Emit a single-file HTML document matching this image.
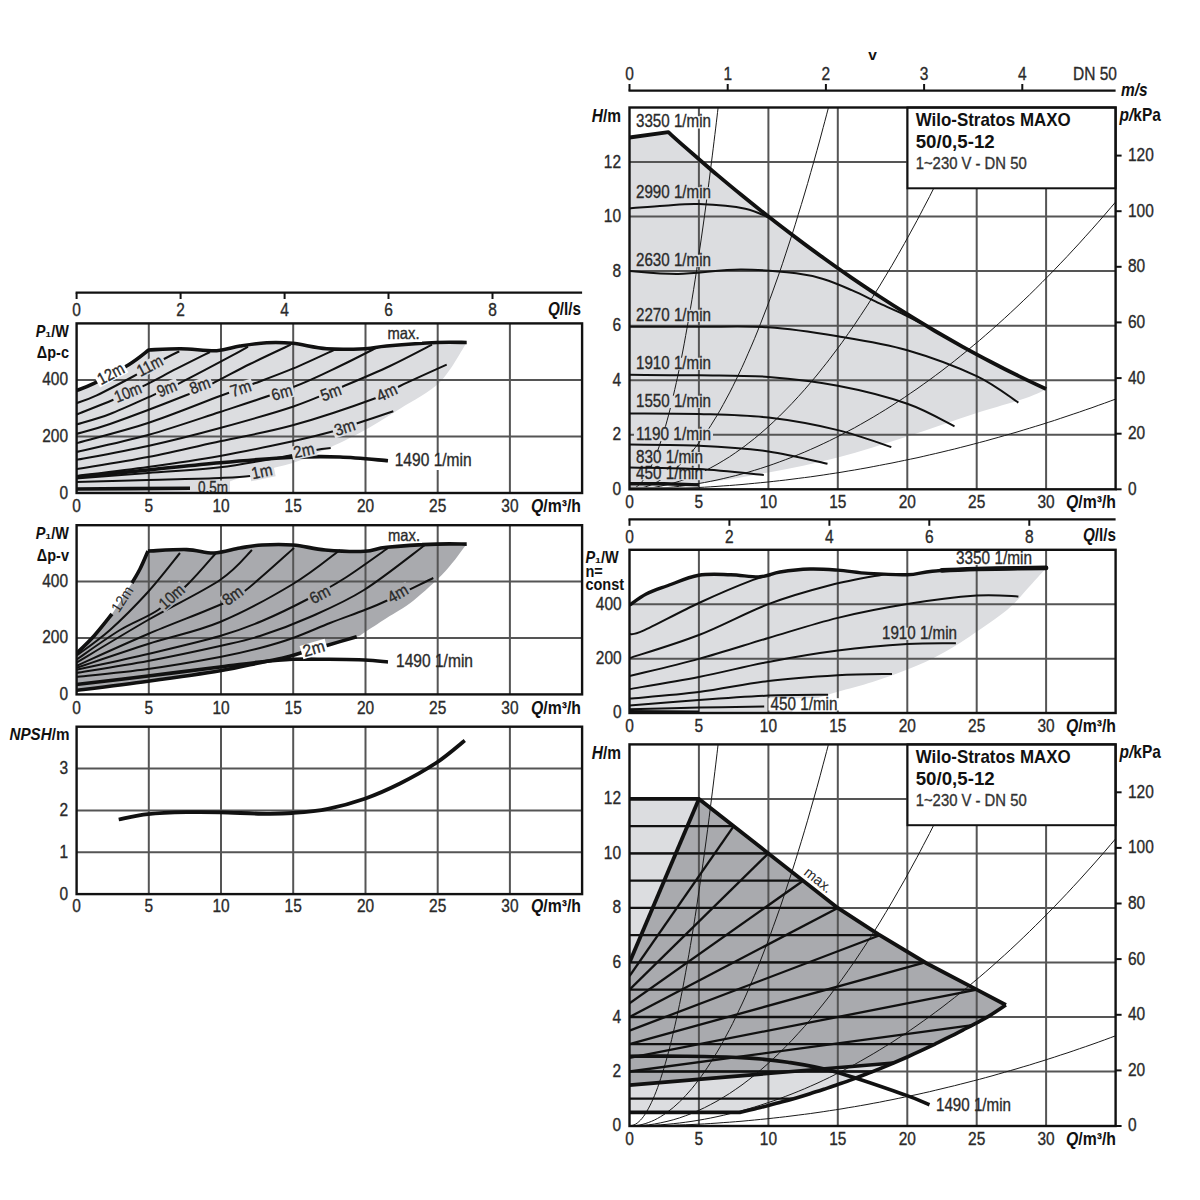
<!DOCTYPE html>
<html><head><meta charset="utf-8"><style>
html,body{margin:0;padding:0;background:#fff;width:1200px;height:1200px;overflow:hidden}
svg{display:block}
text{font-family:"Liberation Sans",sans-serif}
</style></head><body>
<svg width="1200" height="1200" viewBox="0 0 1200 1200">
<defs>
<clipPath id="cA"><rect x="629.5" y="107.5" width="486.1" height="381.8"/></clipPath>
<clipPath id="cB"><rect x="629.5" y="550.0" width="486.1" height="163.0"/></clipPath>
<clipPath id="cC"><rect x="629.5" y="744.4" width="486.1" height="381.6"/></clipPath>
<clipPath id="cD"><rect x="76.6" y="323.4" width="505.5" height="169.6"/></clipPath>
<clipPath id="cE"><rect x="76.6" y="525.2" width="505.5" height="169.2"/></clipPath>
<clipPath id="cF"><rect x="76.6" y="726.7" width="505.5" height="167.4"/></clipPath>
</defs>
<g clip-path="url(#cA)">
<path d="M629.5,137.5 L668.4,132.2 C671.2,134.7 677.6,140.6 685.1,147.1 C692.5,153.6 703.6,163.3 712.8,171.2 C722.1,179.0 731.3,186.8 740.6,194.3 C749.9,201.9 759.1,209.3 768.4,216.6 C777.6,223.8 786.9,231.0 796.2,237.9 C805.4,244.9 814.7,251.7 823.9,258.3 C833.2,265.0 842.4,271.5 851.7,277.9 C861.0,284.2 870.2,290.4 879.5,296.5 C888.7,302.5 898.0,308.4 907.3,314.2 C916.5,319.9 925.8,325.5 935.0,331.0 C944.3,336.4 953.6,341.7 962.8,346.9 C972.1,352.0 981.3,357.0 990.6,361.8 C999.8,366.7 1009.1,371.4 1018.4,375.9 C1027.6,380.4 1041.5,386.9 1046.1,389.0 C1034.6,397.0 999.8,405.9 976.7,412.9 C953.6,420.0 930.4,429.0 907.3,436.4 C884.1,443.8 861.0,451.4 837.8,457.4 C814.7,463.4 791.5,468.1 768.4,472.4 C745.2,476.7 722.1,480.7 698.9,483.3 C675.8,485.9 641.1,487.2 629.5,487.9 Z" fill="#dcdde0"/>
<line x1="698.9" y1="107.5" x2="698.9" y2="489.3" stroke="#555555" stroke-width="2.0"/>
<line x1="768.4" y1="107.5" x2="768.4" y2="489.3" stroke="#555555" stroke-width="2.0"/>
<line x1="837.8" y1="107.5" x2="837.8" y2="489.3" stroke="#555555" stroke-width="2.0"/>
<line x1="907.3" y1="107.5" x2="907.3" y2="489.3" stroke="#555555" stroke-width="2.0"/>
<line x1="976.7" y1="107.5" x2="976.7" y2="489.3" stroke="#555555" stroke-width="2.0"/>
<line x1="1046.1" y1="107.5" x2="1046.1" y2="489.3" stroke="#555555" stroke-width="2.0"/>
<line x1="629.5" y1="434.8" x2="1115.6" y2="434.8" stroke="#555555" stroke-width="2.0"/>
<line x1="629.5" y1="380.2" x2="1115.6" y2="380.2" stroke="#555555" stroke-width="2.0"/>
<line x1="629.5" y1="325.7" x2="1115.6" y2="325.7" stroke="#555555" stroke-width="2.0"/>
<line x1="629.5" y1="271.1" x2="1115.6" y2="271.1" stroke="#555555" stroke-width="2.0"/>
<line x1="629.5" y1="216.6" x2="1115.6" y2="216.6" stroke="#555555" stroke-width="2.0"/>
<line x1="629.5" y1="162.1" x2="1115.6" y2="162.1" stroke="#555555" stroke-width="2.0"/>
<path d="M629.5,489.3 C630.5,489.0 633.7,488.7 635.7,487.4 C637.8,486.1 639.9,484.2 642.0,481.7 C644.1,479.2 646.2,476.0 648.2,472.2 C650.3,468.4 652.4,464.0 654.5,458.9 C656.6,453.8 658.7,448.1 660.7,441.8 C662.8,435.5 664.9,428.5 667.0,420.9 C669.1,413.3 671.2,405.1 673.2,396.2 C675.3,387.4 677.4,377.9 679.5,367.7 C681.6,357.6 683.7,346.8 685.7,335.4 C687.8,324.0 689.9,312.0 692.0,299.3 C694.1,286.7 696.2,273.4 698.2,259.4 C700.3,245.5 702.4,231.0 704.5,215.8 C706.6,200.6 708.7,184.7 710.7,168.3 C712.8,151.8 715.5,129.8 717.0,117.0 C718.5,104.1 719.5,95.5 720.0,91.2" fill="none" stroke="#1a1a1a" stroke-width="1.0" stroke-linejoin="round" />
<path d="M629.5,489.3 C630.5,489.2 633.7,489.2 635.7,488.9 C637.8,488.7 639.9,488.3 642.0,487.8 C644.1,487.3 646.2,486.7 648.2,485.9 C650.3,485.2 652.4,484.3 654.5,483.3 C656.6,482.3 658.7,481.1 660.7,479.9 C662.8,478.6 664.9,477.2 667.0,475.7 C669.1,474.2 671.2,472.6 673.2,470.8 C675.3,469.1 677.4,467.2 679.5,465.2 C681.6,463.2 683.7,461.1 685.7,458.8 C687.8,456.5 689.9,454.1 692.0,451.6 C694.1,449.1 696.2,446.5 698.2,443.7 C700.3,441.0 702.4,438.1 704.5,435.1 C706.6,432.1 708.7,428.9 710.7,425.7 C712.8,422.4 714.9,419.0 717.0,415.5 C719.1,412.0 721.2,408.3 723.2,404.6 C725.3,400.8 727.4,396.9 729.5,392.9 C731.6,388.9 733.7,384.7 735.7,380.5 C737.8,376.2 739.9,371.8 742.0,367.3 C744.1,362.8 746.2,358.1 748.2,353.3 C750.3,348.6 752.4,343.7 754.5,338.7 C756.6,333.6 758.7,328.5 760.7,323.2 C762.8,317.9 764.9,312.5 767.0,307.0 C769.1,301.5 771.2,295.8 773.2,290.1 C775.3,284.3 777.4,278.4 779.5,272.4 C781.6,266.3 783.7,260.2 785.7,253.9 C787.8,247.6 789.9,241.2 792.0,234.7 C794.1,228.2 796.2,221.5 798.2,214.7 C800.3,208.0 802.4,201.1 804.5,194.0 C806.6,187.0 808.7,179.9 810.7,172.6 C812.8,165.3 814.9,157.9 817.0,150.3 C819.1,142.8 821.2,135.2 823.2,127.4 C825.3,119.6 827.9,109.7 829.5,103.6 C831.1,97.6 832.2,93.2 832.7,91.2" fill="none" stroke="#1a1a1a" stroke-width="1.0" stroke-linejoin="round" />
<path d="M629.5,489.3 C630.5,489.3 633.7,489.3 635.7,489.2 C637.8,489.1 639.9,489.0 642.0,488.8 C644.1,488.6 646.2,488.4 648.2,488.2 C650.3,487.9 652.4,487.6 654.5,487.3 C656.6,486.9 658.7,486.5 660.7,486.1 C662.8,485.7 664.9,485.2 667.0,484.7 C669.1,484.2 671.2,483.7 673.2,483.1 C675.3,482.5 677.4,481.8 679.5,481.2 C681.6,480.5 683.7,479.8 685.7,479.0 C687.8,478.3 689.9,477.4 692.0,476.6 C694.1,475.8 696.2,474.9 698.2,473.9 C700.3,473.0 702.4,472.0 704.5,471.0 C706.6,470.0 708.7,468.9 710.7,467.8 C712.8,466.7 714.9,465.6 717.0,464.4 C719.1,463.2 721.2,462.0 723.2,460.7 C725.3,459.5 727.4,458.1 729.5,456.8 C731.6,455.4 733.7,454.0 735.7,452.6 C737.8,451.2 739.9,449.7 742.0,448.1 C744.1,446.6 746.2,445.1 748.2,443.4 C750.3,441.8 752.4,440.2 754.5,438.5 C756.6,436.8 758.7,435.1 760.7,433.3 C762.8,431.5 764.9,429.7 767.0,427.8 C769.1,426.0 771.2,424.1 773.2,422.1 C775.3,420.2 777.4,418.2 779.5,416.1 C781.6,414.1 783.7,412.0 785.7,409.9 C787.8,407.8 789.9,405.6 792.0,403.4 C794.1,401.2 796.2,399.0 798.2,396.7 C800.3,394.4 802.4,392.1 804.5,389.7 C806.6,387.4 808.7,384.9 810.7,382.5 C812.8,380.0 814.9,377.5 817.0,375.0 C819.1,372.5 821.2,369.9 823.2,367.2 C825.3,364.6 827.4,362.0 829.5,359.2 C831.6,356.5 833.7,353.8 835.7,351.0 C837.8,348.2 839.9,345.4 842.0,342.5 C844.1,339.6 846.2,336.7 848.2,333.7 C850.3,330.7 852.4,327.7 854.5,324.7 C856.6,321.6 858.7,318.6 860.7,315.4 C862.8,312.3 864.9,309.1 867.0,305.9 C869.1,302.7 871.2,299.4 873.2,296.1 C875.3,292.8 877.4,289.5 879.5,286.1 C881.6,282.7 883.7,279.3 885.7,275.8 C887.8,272.3 889.9,268.8 892.0,265.3 C894.1,261.7 896.1,258.1 898.2,254.5 C900.3,250.8 902.4,247.1 904.5,243.4 C906.6,239.7 908.6,235.9 910.7,232.1 C912.8,228.3 914.9,224.4 917.0,220.5 C919.1,216.7 921.1,212.7 923.2,208.7 C925.3,204.8 927.4,200.7 929.5,196.7 C931.6,192.6 933.6,188.5 935.7,184.3 C937.8,180.2 939.9,176.0 942.0,171.8 C944.1,167.5 946.1,163.3 948.2,158.9 C950.3,154.6 952.4,150.3 954.5,145.9 C956.6,141.5 958.6,137.0 960.7,132.5 C962.8,128.0 964.9,123.5 967.0,118.9 C969.1,114.4 971.2,109.7 973.2,105.1 C975.3,100.5 978.4,93.5 979.4,91.2" fill="none" stroke="#1a1a1a" stroke-width="1.0" stroke-linejoin="round" />
<path d="M629.5,489.3 C630.5,489.3 633.7,489.3 635.7,489.3 C637.8,489.2 639.9,489.2 642.0,489.1 C644.1,489.0 646.2,489.0 648.2,488.9 C650.3,488.8 652.4,488.7 654.5,488.5 C656.6,488.4 658.7,488.3 660.7,488.1 C662.8,488.0 664.9,487.8 667.0,487.6 C669.1,487.4 671.2,487.2 673.2,487.0 C675.3,486.8 677.4,486.5 679.5,486.3 C681.6,486.0 683.7,485.7 685.7,485.5 C687.8,485.2 689.9,484.9 692.0,484.6 C694.1,484.2 696.2,483.9 698.2,483.6 C700.3,483.2 702.4,482.8 704.5,482.5 C706.6,482.1 708.7,481.7 710.7,481.3 C712.8,480.9 714.9,480.4 717.0,480.0 C719.1,479.5 721.2,479.1 723.2,478.6 C725.3,478.1 727.4,477.6 729.5,477.1 C731.6,476.6 733.7,476.1 735.7,475.6 C737.8,475.0 739.9,474.5 742.0,473.9 C744.1,473.3 746.2,472.8 748.2,472.2 C750.3,471.6 752.4,470.9 754.5,470.3 C756.6,469.7 758.7,469.0 760.7,468.4 C762.8,467.7 764.9,467.0 767.0,466.3 C769.1,465.6 771.2,464.9 773.2,464.2 C775.3,463.4 777.4,462.7 779.5,461.9 C781.6,461.2 783.7,460.4 785.7,459.6 C787.8,458.8 789.9,458.0 792.0,457.2 C794.1,456.4 796.2,455.5 798.2,454.7 C800.3,453.8 802.4,453.0 804.5,452.1 C806.6,451.2 808.7,450.3 810.7,449.4 C812.8,448.4 814.9,447.5 817.0,446.6 C819.1,445.6 821.2,444.6 823.2,443.7 C825.3,442.7 827.4,441.7 829.5,440.7 C831.6,439.7 833.7,438.6 835.7,437.6 C837.8,436.5 839.9,435.5 842.0,434.4 C844.1,433.3 846.2,432.2 848.2,431.1 C850.3,430.0 852.4,428.9 854.5,427.8 C856.6,426.6 858.7,425.5 860.7,424.3 C862.8,423.1 864.9,421.9 867.0,420.7 C869.1,419.5 871.2,418.3 873.2,417.1 C875.3,415.8 877.4,414.6 879.5,413.3 C881.6,412.0 883.7,410.8 885.7,409.5 C887.8,408.2 889.9,406.9 892.0,405.5 C894.1,404.2 896.1,402.9 898.2,401.5 C900.3,400.1 902.4,398.8 904.5,397.4 C906.6,396.0 908.6,394.6 910.7,393.1 C912.8,391.7 914.9,390.3 917.0,388.8 C919.1,387.4 921.1,385.9 923.2,384.4 C925.3,382.9 927.4,381.4 929.5,379.9 C931.6,378.4 933.6,376.8 935.7,375.3 C937.8,373.7 939.9,372.2 942.0,370.6 C944.1,369.0 946.1,367.4 948.2,365.8 C950.3,364.2 952.4,362.5 954.5,360.9 C956.6,359.2 958.6,357.6 960.7,355.9 C962.8,354.2 964.9,352.5 967.0,350.8 C969.1,349.1 971.1,347.4 973.2,345.6 C975.3,343.9 977.4,342.1 979.5,340.4 C981.6,338.6 983.6,336.8 985.7,335.0 C987.8,333.2 989.9,331.4 992.0,329.5 C994.1,327.7 996.1,325.9 998.2,324.0 C1000.3,322.1 1002.4,320.2 1004.5,318.3 C1006.6,316.4 1008.6,314.5 1010.7,312.6 C1012.8,310.7 1014.9,308.7 1017.0,306.7 C1019.1,304.8 1021.1,302.8 1023.2,300.8 C1025.3,298.8 1027.4,296.8 1029.5,294.8 C1031.6,292.8 1033.6,290.7 1035.7,288.7 C1037.8,286.6 1039.9,284.5 1042.0,282.4 C1044.1,280.3 1046.1,278.2 1048.2,276.1 C1050.3,274.0 1052.4,271.9 1054.5,269.7 C1056.6,267.6 1058.6,265.4 1060.7,263.2 C1062.8,261.0 1064.9,258.8 1067.0,256.6 C1069.1,254.4 1071.1,252.1 1073.2,249.9 C1075.3,247.7 1077.4,245.4 1079.5,243.1 C1081.6,240.8 1083.6,238.5 1085.7,236.2 C1087.8,233.9 1089.9,231.6 1092.0,229.2 C1094.1,226.9 1096.1,224.5 1098.2,222.2 C1100.3,219.8 1102.4,217.4 1104.5,215.0 C1106.6,212.6 1108.6,210.2 1110.7,207.7 C1112.8,205.3 1114.9,202.8 1117.0,200.4 C1119.1,197.9 1121.1,195.4 1123.2,192.9 C1125.3,190.4 1128.4,186.6 1129.5,185.4" fill="none" stroke="#1a1a1a" stroke-width="1.0" stroke-linejoin="round" />
<path d="M629.5,489.3 C630.5,489.3 633.7,489.3 635.7,489.3 C637.8,489.3 639.9,489.3 642.0,489.2 C644.1,489.2 646.2,489.2 648.2,489.2 C650.3,489.1 652.4,489.1 654.5,489.1 C656.6,489.0 658.7,489.0 660.7,488.9 C662.8,488.9 664.9,488.8 667.0,488.8 C669.1,488.7 671.2,488.6 673.2,488.6 C675.3,488.5 677.4,488.4 679.5,488.3 C681.6,488.3 683.7,488.2 685.7,488.1 C687.8,488.0 689.9,487.9 692.0,487.8 C694.1,487.7 696.2,487.6 698.2,487.5 C700.3,487.4 702.4,487.3 704.5,487.2 C706.6,487.0 708.7,486.9 710.7,486.8 C712.8,486.7 714.9,486.5 717.0,486.4 C719.1,486.2 721.2,486.1 723.2,485.9 C725.3,485.8 727.4,485.6 729.5,485.5 C731.6,485.3 733.7,485.2 735.7,485.0 C737.8,484.8 739.9,484.6 742.0,484.5 C744.1,484.3 746.2,484.1 748.2,483.9 C750.3,483.7 752.4,483.5 754.5,483.3 C756.6,483.1 758.7,482.9 760.7,482.7 C762.8,482.5 764.9,482.3 767.0,482.1 C769.1,481.9 771.2,481.6 773.2,481.4 C775.3,481.2 777.4,481.0 779.5,480.7 C781.6,480.5 783.7,480.2 785.7,480.0 C787.8,479.7 789.9,479.5 792.0,479.2 C794.1,479.0 796.2,478.7 798.2,478.4 C800.3,478.2 802.4,477.9 804.5,477.6 C806.6,477.3 808.7,477.0 810.7,476.8 C812.8,476.5 814.9,476.2 817.0,475.9 C819.1,475.6 821.2,475.3 823.2,475.0 C825.3,474.7 827.4,474.4 829.5,474.0 C831.6,473.7 833.7,473.4 835.7,473.1 C837.8,472.7 839.9,472.4 842.0,472.1 C844.1,471.7 846.2,471.4 848.2,471.0 C850.3,470.7 852.4,470.3 854.5,470.0 C856.6,469.6 858.7,469.3 860.7,468.9 C862.8,468.5 864.9,468.1 867.0,467.8 C869.1,467.4 871.2,467.0 873.2,466.6 C875.3,466.2 877.4,465.8 879.5,465.4 C881.6,465.0 883.7,464.6 885.7,464.2 C887.8,463.8 889.9,463.4 892.0,463.0 C894.1,462.6 896.1,462.2 898.2,461.7 C900.3,461.3 902.4,460.9 904.5,460.4 C906.6,460.0 908.6,459.6 910.7,459.1 C912.8,458.7 914.9,458.2 917.0,457.8 C919.1,457.3 921.1,456.8 923.2,456.4 C925.3,455.9 927.4,455.4 929.5,454.9 C931.6,454.5 933.6,454.0 935.7,453.5 C937.8,453.0 939.9,452.5 942.0,452.0 C944.1,451.5 946.1,451.0 948.2,450.5 C950.3,450.0 952.4,449.5 954.5,449.0 C956.6,448.5 958.6,447.9 960.7,447.4 C962.8,446.9 964.9,446.4 967.0,445.8 C969.1,445.3 971.1,444.7 973.2,444.2 C975.3,443.7 977.4,443.1 979.5,442.5 C981.6,442.0 983.6,441.4 985.7,440.9 C987.8,440.3 989.9,439.7 992.0,439.1 C994.1,438.6 996.1,438.0 998.2,437.4 C1000.3,436.8 1002.4,436.2 1004.5,435.6 C1006.6,435.0 1008.6,434.4 1010.7,433.8 C1012.8,433.2 1014.9,432.6 1017.0,432.0 C1019.1,431.4 1021.1,430.7 1023.2,430.1 C1025.3,429.5 1027.4,428.9 1029.5,428.2 C1031.6,427.6 1033.6,427.0 1035.7,426.3 C1037.8,425.7 1039.9,425.0 1042.0,424.4 C1044.1,423.7 1046.1,423.0 1048.2,422.4 C1050.3,421.7 1052.4,421.0 1054.5,420.4 C1056.6,419.7 1058.6,419.0 1060.7,418.3 C1062.8,417.6 1064.9,416.9 1067.0,416.2 C1069.1,415.5 1071.1,414.8 1073.2,414.1 C1075.3,413.4 1077.4,412.7 1079.5,412.0 C1081.6,411.3 1083.6,410.6 1085.7,409.8 C1087.8,409.1 1089.9,408.4 1092.0,407.7 C1094.1,406.9 1096.1,406.2 1098.2,405.4 C1100.3,404.7 1102.4,403.9 1104.5,403.2 C1106.6,402.4 1108.6,401.7 1110.7,400.9 C1112.8,400.1 1114.9,399.4 1117.0,398.6 C1119.1,397.8 1121.1,397.0 1123.2,396.2 C1125.3,395.5 1128.4,394.3 1129.5,393.9" fill="none" stroke="#1a1a1a" stroke-width="1.0" stroke-linejoin="round" />
<rect x="634.0" y="116.2" width="79.0" height="12.3" fill="#fff"/>
<text transform="matrix(1 0 0 1.15 0 -19.12)" x="636.0" y="127.5" font-size="15.5" text-anchor="start" font-weight="normal" font-style="normal" fill="#2a2a2a" stroke="#2a2a2a" stroke-width="0.3" textLength="75.0" lengthAdjust="spacingAndGlyphs">3350 1/min</text>
<rect x="634.0" y="187.2" width="79.0" height="12.3" fill="#dcdde0"/>
<text transform="matrix(1 0 0 1.15 0 -29.77)" x="636.0" y="198.5" font-size="15.5" text-anchor="start" font-weight="normal" font-style="normal" fill="#2a2a2a" stroke="#2a2a2a" stroke-width="0.3" textLength="75.0" lengthAdjust="spacingAndGlyphs">2990 1/min</text>
<rect x="634.0" y="254.7" width="79.0" height="12.3" fill="#dcdde0"/>
<text transform="matrix(1 0 0 1.15 0 -39.90)" x="636.0" y="266.0" font-size="15.5" text-anchor="start" font-weight="normal" font-style="normal" fill="#2a2a2a" stroke="#2a2a2a" stroke-width="0.3" textLength="75.0" lengthAdjust="spacingAndGlyphs">2630 1/min</text>
<rect x="634.0" y="309.7" width="79.0" height="12.3" fill="#dcdde0"/>
<text transform="matrix(1 0 0 1.15 0 -48.15)" x="636.0" y="321.0" font-size="15.5" text-anchor="start" font-weight="normal" font-style="normal" fill="#2a2a2a" stroke="#2a2a2a" stroke-width="0.3" textLength="75.0" lengthAdjust="spacingAndGlyphs">2270 1/min</text>
<rect x="634.0" y="357.7" width="79.0" height="12.3" fill="#dcdde0"/>
<text transform="matrix(1 0 0 1.15 0 -55.35)" x="636.0" y="369.0" font-size="15.5" text-anchor="start" font-weight="normal" font-style="normal" fill="#2a2a2a" stroke="#2a2a2a" stroke-width="0.3" textLength="75.0" lengthAdjust="spacingAndGlyphs">1910 1/min</text>
<rect x="634.0" y="395.7" width="79.0" height="12.3" fill="#dcdde0"/>
<text transform="matrix(1 0 0 1.15 0 -61.05)" x="636.0" y="407.0" font-size="15.5" text-anchor="start" font-weight="normal" font-style="normal" fill="#2a2a2a" stroke="#2a2a2a" stroke-width="0.3" textLength="75.0" lengthAdjust="spacingAndGlyphs">1550 1/min</text>
<rect x="634.0" y="428.7" width="79.0" height="12.3" fill="#dcdde0"/>
<text transform="matrix(1 0 0 1.15 0 -66.00)" x="636.0" y="440.0" font-size="15.5" text-anchor="start" font-weight="normal" font-style="normal" fill="#2a2a2a" stroke="#2a2a2a" stroke-width="0.3" textLength="75.0" lengthAdjust="spacingAndGlyphs">1190 1/min</text>
<rect x="634.0" y="452.0" width="71.0" height="12.3" fill="#dcdde0"/>
<text transform="matrix(1 0 0 1.15 0 -69.49)" x="636.0" y="463.3" font-size="15.5" text-anchor="start" font-weight="normal" font-style="normal" fill="#2a2a2a" stroke="#2a2a2a" stroke-width="0.3" textLength="67.0" lengthAdjust="spacingAndGlyphs">830 1/min</text>
<rect x="634.0" y="467.9" width="71.0" height="12.3" fill="#dcdde0"/>
<text transform="matrix(1 0 0 1.15 0 -71.88)" x="636.0" y="479.2" font-size="15.5" text-anchor="start" font-weight="normal" font-style="normal" fill="#2a2a2a" stroke="#2a2a2a" stroke-width="0.3" textLength="67.0" lengthAdjust="spacingAndGlyphs">450 1/min</text>
<path d="M629.5,208.4 C635.3,208.0 652.6,206.4 664.2,205.7 C675.8,205.0 685.4,203.6 698.9,204.1 C712.5,204.6 733.1,206.1 745.3,208.7 C757.6,211.2 768.0,217.6 772.5,219.3" fill="none" stroke="#111" stroke-width="2.0" stroke-linejoin="round" />
<path d="M629.5,270.9 C637.6,271.4 659.6,274.1 678.1,273.9 C696.6,273.6 720.9,269.6 740.6,269.5 C760.3,269.4 782.3,271.7 796.2,273.3 C810.0,275.0 814.7,276.5 823.9,279.3 C833.2,282.1 842.4,286.2 851.7,290.2 C861.0,294.2 870.7,299.2 879.5,303.3 C888.3,307.4 897.5,311.4 904.5,314.8 C911.4,318.1 918.4,322.0 921.1,323.5" fill="none" stroke="#111" stroke-width="2.0" stroke-linejoin="round" />
<path d="M629.5,326.8 C641.1,326.8 675.8,326.7 698.9,326.8 C722.1,326.9 745.2,325.7 768.4,327.3 C791.5,328.9 814.7,332.5 837.8,336.3 C861.0,340.1 884.1,343.6 907.3,350.2 C930.4,356.9 958.2,367.4 976.7,376.1 C995.2,384.9 1011.4,398.2 1018.4,402.6" fill="none" stroke="#111" stroke-width="2.0" stroke-linejoin="round" />
<path d="M629.5,374.8 C641.1,374.9 675.8,374.9 698.9,375.3 C722.1,375.7 745.2,375.2 768.4,376.9 C791.5,378.7 814.7,381.2 837.8,385.7 C861.0,390.1 887.8,396.9 907.3,403.7 C926.7,410.4 946.6,422.5 954.5,426.3" fill="none" stroke="#111" stroke-width="2.0" stroke-linejoin="round" />
<path d="M629.5,413.5 C641.1,413.6 675.8,413.4 698.9,414.0 C722.1,414.7 745.2,414.9 768.4,417.6 C791.5,420.3 817.3,425.2 837.8,430.1 C858.3,435.0 882.4,444.2 891.3,447.0" fill="none" stroke="#111" stroke-width="2.0" stroke-linejoin="round" />
<path d="M629.5,444.6 C641.1,444.8 675.8,444.5 698.9,445.7 C722.1,446.8 746.9,448.4 768.4,451.4 C789.8,454.4 817.7,461.6 827.5,463.7" fill="none" stroke="#111" stroke-width="2.0" stroke-linejoin="round" />
<path d="M629.5,467.5 C641.1,467.8 676.6,467.8 698.9,469.1 C721.3,470.4 753.0,474.1 763.8,475.1" fill="none" stroke="#111" stroke-width="2.0" stroke-linejoin="round" />
<path d="M629.5,483.8 L664.2,483.8 L698.9,484.9" fill="none" stroke="#111" stroke-width="3.4" stroke-linejoin="round" />
<path d="M629.5,487.4 L698.9,488.2" fill="none" stroke="#666" stroke-width="1.2" stroke-linejoin="round" />
<path d="M629.5,137.5 L668.4,132.2 C671.2,134.7 677.6,140.6 685.1,147.1 C692.5,153.6 703.6,163.3 712.8,171.2 C722.1,179.0 731.3,186.8 740.6,194.3 C749.9,201.9 759.1,209.3 768.4,216.6 C777.6,223.8 786.9,231.0 796.2,237.9 C805.4,244.9 814.7,251.7 823.9,258.3 C833.2,265.0 842.4,271.5 851.7,277.9 C861.0,284.2 870.2,290.4 879.5,296.5 C888.7,302.5 898.0,308.4 907.3,314.2 C916.5,319.9 925.8,325.5 935.0,331.0 C944.3,336.4 953.6,341.7 962.8,346.9 C972.1,352.0 981.3,357.0 990.6,361.8 C999.8,366.7 1009.1,371.4 1018.4,375.9 C1027.6,380.4 1041.5,386.9 1046.1,389.0" fill="none" stroke="#111" stroke-width="3.8" stroke-linejoin="round"/>
</g>
<rect x="907.5" y="107.5" width="208.1" height="80.8" fill="#fff" stroke="#111" stroke-width="2"/>
<text transform="matrix(1 0 0 1.15 0 -18.97)" x="915.7" y="126.5" font-size="15.5" text-anchor="start" font-weight="bold" font-style="normal" fill="#111" textLength="155" lengthAdjust="spacingAndGlyphs">Wilo-Stratos MAXO</text>
<text transform="matrix(1 0 0 1.15 0 -22.26)" x="915.7" y="148.4" font-size="15.5" text-anchor="start" font-weight="bold" font-style="normal" fill="#111" textLength="79" lengthAdjust="spacingAndGlyphs">50/0,5-12</text>
<text transform="matrix(1 0 0 1.15 0 -25.39)" x="915.7" y="169.3" font-size="14" text-anchor="start" font-weight="normal" font-style="normal" fill="#333" stroke="#333" stroke-width="0.3" textLength="111" lengthAdjust="spacingAndGlyphs">1~230 V - DN 50</text>
<rect x="629.5" y="107.5" width="486.1" height="381.8" fill="none" stroke="#111" stroke-width="2.4"/>
<text transform="matrix(1 0 0 1.15 0 -74.22)" x="621.0" y="494.8" font-size="15.5" text-anchor="end" font-weight="normal" font-style="normal" fill="#2a2a2a" stroke="#2a2a2a" stroke-width="0.3" >0</text>
<text transform="matrix(1 0 0 1.15 0 -66.04)" x="621.0" y="440.3" font-size="15.5" text-anchor="end" font-weight="normal" font-style="normal" fill="#2a2a2a" stroke="#2a2a2a" stroke-width="0.3" >2</text>
<text transform="matrix(1 0 0 1.15 0 -57.86)" x="621.0" y="385.7" font-size="15.5" text-anchor="end" font-weight="normal" font-style="normal" fill="#2a2a2a" stroke="#2a2a2a" stroke-width="0.3" >4</text>
<text transform="matrix(1 0 0 1.15 0 -49.68)" x="621.0" y="331.2" font-size="15.5" text-anchor="end" font-weight="normal" font-style="normal" fill="#2a2a2a" stroke="#2a2a2a" stroke-width="0.3" >6</text>
<text transform="matrix(1 0 0 1.15 0 -41.50)" x="621.0" y="276.6" font-size="15.5" text-anchor="end" font-weight="normal" font-style="normal" fill="#2a2a2a" stroke="#2a2a2a" stroke-width="0.3" >8</text>
<text transform="matrix(1 0 0 1.15 0 -33.31)" x="621.0" y="222.1" font-size="15.5" text-anchor="end" font-weight="normal" font-style="normal" fill="#2a2a2a" stroke="#2a2a2a" stroke-width="0.3" >10</text>
<text transform="matrix(1 0 0 1.15 0 -25.13)" x="621.0" y="167.6" font-size="15.5" text-anchor="end" font-weight="normal" font-style="normal" fill="#2a2a2a" stroke="#2a2a2a" stroke-width="0.3" >12</text>
<text transform="matrix(1 0 0 1.15 0 -18.30)" x="621.0" y="122.0" font-size="15.5" text-anchor="end" font-weight="bold" font-style="normal" fill="#111" ><tspan font-style="italic">H</tspan>/m</text>
<text transform="matrix(1 0 0 1.15 0 -76.27)" x="629.5" y="508.5" font-size="15.5" text-anchor="middle" font-weight="normal" font-style="normal" fill="#2a2a2a" stroke="#2a2a2a" stroke-width="0.3" >0</text>
<text transform="matrix(1 0 0 1.15 0 -76.27)" x="698.9" y="508.5" font-size="15.5" text-anchor="middle" font-weight="normal" font-style="normal" fill="#2a2a2a" stroke="#2a2a2a" stroke-width="0.3" >5</text>
<text transform="matrix(1 0 0 1.15 0 -76.27)" x="768.4" y="508.5" font-size="15.5" text-anchor="middle" font-weight="normal" font-style="normal" fill="#2a2a2a" stroke="#2a2a2a" stroke-width="0.3" >10</text>
<text transform="matrix(1 0 0 1.15 0 -76.27)" x="837.8" y="508.5" font-size="15.5" text-anchor="middle" font-weight="normal" font-style="normal" fill="#2a2a2a" stroke="#2a2a2a" stroke-width="0.3" >15</text>
<text transform="matrix(1 0 0 1.15 0 -76.27)" x="907.3" y="508.5" font-size="15.5" text-anchor="middle" font-weight="normal" font-style="normal" fill="#2a2a2a" stroke="#2a2a2a" stroke-width="0.3" >20</text>
<text transform="matrix(1 0 0 1.15 0 -76.27)" x="976.7" y="508.5" font-size="15.5" text-anchor="middle" font-weight="normal" font-style="normal" fill="#2a2a2a" stroke="#2a2a2a" stroke-width="0.3" >25</text>
<text transform="matrix(1 0 0 1.15 0 -76.27)" x="1046.1" y="508.5" font-size="15.5" text-anchor="middle" font-weight="normal" font-style="normal" fill="#2a2a2a" stroke="#2a2a2a" stroke-width="0.3" >30</text>
<text transform="matrix(1 0 0 1.15 0 -76.27)" x="1116.0" y="508.5" font-size="15.5" text-anchor="end" font-weight="bold" font-style="normal" fill="#111" textLength="50" lengthAdjust="spacingAndGlyphs"><tspan font-style="italic">Q</tspan>/m³/h</text>
<line x1="1115.6" y1="489.3" x2="1121.6" y2="489.3" stroke="#111" stroke-width="2"/>
<text transform="matrix(1 0 0 1.15 0 -74.22)" x="1128.0" y="494.8" font-size="15.5" text-anchor="start" font-weight="normal" font-style="normal" fill="#2a2a2a" stroke="#2a2a2a" stroke-width="0.3" >0</text>
<line x1="1115.6" y1="433.7" x2="1121.6" y2="433.7" stroke="#111" stroke-width="2"/>
<text transform="matrix(1 0 0 1.15 0 -65.88)" x="1128.0" y="439.2" font-size="15.5" text-anchor="start" font-weight="normal" font-style="normal" fill="#2a2a2a" stroke="#2a2a2a" stroke-width="0.3" >20</text>
<line x1="1115.6" y1="378.1" x2="1121.6" y2="378.1" stroke="#111" stroke-width="2"/>
<text transform="matrix(1 0 0 1.15 0 -57.53)" x="1128.0" y="383.6" font-size="15.5" text-anchor="start" font-weight="normal" font-style="normal" fill="#2a2a2a" stroke="#2a2a2a" stroke-width="0.3" >40</text>
<line x1="1115.6" y1="322.4" x2="1121.6" y2="322.4" stroke="#111" stroke-width="2"/>
<text transform="matrix(1 0 0 1.15 0 -49.19)" x="1128.0" y="327.9" font-size="15.5" text-anchor="start" font-weight="normal" font-style="normal" fill="#2a2a2a" stroke="#2a2a2a" stroke-width="0.3" >60</text>
<line x1="1115.6" y1="266.8" x2="1121.6" y2="266.8" stroke="#111" stroke-width="2"/>
<text transform="matrix(1 0 0 1.15 0 -40.85)" x="1128.0" y="272.3" font-size="15.5" text-anchor="start" font-weight="normal" font-style="normal" fill="#2a2a2a" stroke="#2a2a2a" stroke-width="0.3" >80</text>
<line x1="1115.6" y1="211.2" x2="1121.6" y2="211.2" stroke="#111" stroke-width="2"/>
<text transform="matrix(1 0 0 1.15 0 -32.51)" x="1128.0" y="216.7" font-size="15.5" text-anchor="start" font-weight="normal" font-style="normal" fill="#2a2a2a" stroke="#2a2a2a" stroke-width="0.3" >100</text>
<line x1="1115.6" y1="155.6" x2="1121.6" y2="155.6" stroke="#111" stroke-width="2"/>
<text transform="matrix(1 0 0 1.15 0 -24.16)" x="1128.0" y="161.1" font-size="15.5" text-anchor="start" font-weight="normal" font-style="normal" fill="#2a2a2a" stroke="#2a2a2a" stroke-width="0.3" >120</text>
<text transform="matrix(1 0 0 1.15 0 -18.10)" x="1119.5" y="120.7" font-size="15.5" text-anchor="start" font-weight="bold" font-style="italic" fill="#111" >p/<tspan font-style="normal">kPa</tspan></text>
<line x1="628.5" y1="90.6" x2="1115.6" y2="90.6" stroke="#111" stroke-width="2.2"/>
<line x1="629.5" y1="84" x2="629.5" y2="90.6" stroke="#111" stroke-width="2"/>
<text transform="matrix(1 0 0 1.15 0 -12.00)" x="629.5" y="80.0" font-size="15.5" text-anchor="middle" font-weight="normal" font-style="normal" fill="#2a2a2a" stroke="#2a2a2a" stroke-width="0.3" >0</text>
<line x1="727.7" y1="84" x2="727.7" y2="90.6" stroke="#111" stroke-width="2"/>
<text transform="matrix(1 0 0 1.15 0 -12.00)" x="727.7" y="80.0" font-size="15.5" text-anchor="middle" font-weight="normal" font-style="normal" fill="#2a2a2a" stroke="#2a2a2a" stroke-width="0.3" >1</text>
<line x1="825.9" y1="84" x2="825.9" y2="90.6" stroke="#111" stroke-width="2"/>
<text transform="matrix(1 0 0 1.15 0 -12.00)" x="825.9" y="80.0" font-size="15.5" text-anchor="middle" font-weight="normal" font-style="normal" fill="#2a2a2a" stroke="#2a2a2a" stroke-width="0.3" >2</text>
<line x1="924.1" y1="84" x2="924.1" y2="90.6" stroke="#111" stroke-width="2"/>
<text transform="matrix(1 0 0 1.15 0 -12.00)" x="924.1" y="80.0" font-size="15.5" text-anchor="middle" font-weight="normal" font-style="normal" fill="#2a2a2a" stroke="#2a2a2a" stroke-width="0.3" >3</text>
<line x1="1022.3" y1="84" x2="1022.3" y2="90.6" stroke="#111" stroke-width="2"/>
<text transform="matrix(1 0 0 1.15 0 -12.00)" x="1022.3" y="80.0" font-size="15.5" text-anchor="middle" font-weight="normal" font-style="normal" fill="#2a2a2a" stroke="#2a2a2a" stroke-width="0.3" >4</text>
<text transform="matrix(1 0 0 1.0 0 0.00)" x="872.5" y="60.0" font-size="15.5" text-anchor="middle" font-weight="bold" font-style="normal" fill="#111" >v</text>
<text transform="matrix(1 0 0 1.15 0 -12.00)" x="1073.0" y="80.0" font-size="15.5" text-anchor="start" font-weight="normal" font-style="normal" fill="#2a2a2a" stroke="#2a2a2a" stroke-width="0.3" >DN 50</text>
<text transform="matrix(1 0 0 1.15 0 -14.40)" x="1121.0" y="96.0" font-size="15.5" text-anchor="start" font-weight="bold" font-style="normal" fill="#111" ><tspan font-style="italic">m/s</tspan></text>
<g clip-path="url(#cB)">
<path d="M629.5,605.1 C632.3,603.3 640.0,597.2 646.2,594.0 C652.4,590.8 658.0,589.1 666.7,586.0 C675.5,582.9 688.0,577.1 698.7,575.3 C709.3,573.4 720.5,574.5 730.7,574.7 C741.0,575.0 751.8,577.2 760.0,576.8 C768.3,576.3 771.7,573.3 780.0,572.0 C788.4,570.7 800.4,569.3 810.0,569.0 C819.7,568.7 828.1,569.4 837.8,570.1 C847.5,570.8 856.8,572.6 868.4,573.4 C879.9,574.1 896.6,575.1 907.3,574.7 C917.9,574.4 920.7,572.1 932.3,571.2 C943.8,570.2 957.7,569.6 976.7,569.0 C995.7,568.5 1034.6,568.1 1046.1,567.9 C1042.9,571.5 1033.2,582.4 1026.7,589.4 C1020.2,596.4 1016.7,601.9 1007.3,609.8 C997.8,617.6 981.6,628.6 969.8,636.4 C958.0,644.2 946.8,651.0 936.4,656.5 C926.0,662.0 917.9,665.3 907.3,669.5 C896.6,673.8 884.1,678.3 872.5,682.0 C861.0,685.7 847.5,688.9 837.8,691.8 C828.1,694.7 820.9,696.9 814.2,699.4 C807.5,702.0 801.5,704.8 797.5,707.0 C793.6,709.3 791.8,712.0 790.6,713.0 L629.5,713.0 Z" fill="#dcdde0"/>
<line x1="698.9" y1="549.8" x2="698.9" y2="713.0" stroke="#555555" stroke-width="2.0"/>
<line x1="768.4" y1="549.8" x2="768.4" y2="713.0" stroke="#555555" stroke-width="2.0"/>
<line x1="837.8" y1="549.8" x2="837.8" y2="713.0" stroke="#555555" stroke-width="2.0"/>
<line x1="907.3" y1="549.8" x2="907.3" y2="713.0" stroke="#555555" stroke-width="2.0"/>
<line x1="976.7" y1="549.8" x2="976.7" y2="713.0" stroke="#555555" stroke-width="2.0"/>
<line x1="1046.1" y1="549.8" x2="1046.1" y2="713.0" stroke="#555555" stroke-width="2.0"/>
<line x1="629.5" y1="658.7" x2="1115.6" y2="658.7" stroke="#555555" stroke-width="2.0"/>
<line x1="629.5" y1="604.3" x2="1115.6" y2="604.3" stroke="#555555" stroke-width="2.0"/>
<rect x="954.0" y="552.7" width="80.0" height="12.3" fill="#fff"/>
<text transform="matrix(1 0 0 1.15 0 -84.60)" x="956.0" y="564.0" font-size="15.5" text-anchor="start" font-weight="normal" font-style="normal" fill="#2a2a2a" stroke="#2a2a2a" stroke-width="0.3" textLength="76.0" lengthAdjust="spacingAndGlyphs">3350 1/min</text>
<rect x="880.0" y="627.7" width="79.0" height="12.3" fill="#dcdde0"/>
<text transform="matrix(1 0 0 1.15 0 -95.85)" x="882.0" y="639.0" font-size="15.5" text-anchor="start" font-weight="normal" font-style="normal" fill="#2a2a2a" stroke="#2a2a2a" stroke-width="0.3" textLength="75.0" lengthAdjust="spacingAndGlyphs">1910 1/min</text>
<rect x="768.5" y="698.2" width="71.0" height="12.3" fill="#fff"/>
<text transform="matrix(1 0 0 1.15 0 -106.42)" x="770.5" y="709.5" font-size="15.5" text-anchor="start" font-weight="normal" font-style="normal" fill="#2a2a2a" stroke="#2a2a2a" stroke-width="0.3" textLength="67.0" lengthAdjust="spacingAndGlyphs">450 1/min</text>
<path d="M629.5,634.2 C631.8,633.6 631.8,635.9 643.4,630.7 C655.0,625.5 680.7,611.4 698.9,603.0 C717.2,594.5 741.1,584.5 753.1,579.9 C765.1,575.2 768.1,575.8 771.2,575.0" fill="none" stroke="#111" stroke-width="2.0" stroke-linejoin="round" />
<path d="M629.5,658.1 C641.1,654.3 675.8,644.0 698.9,635.0 C722.1,626.0 746.4,612.4 768.4,604.1 C790.4,595.7 811.2,590.1 830.9,585.0 C850.6,580.0 877.2,575.8 886.4,573.9" fill="none" stroke="#111" stroke-width="2.0" stroke-linejoin="round" />
<path d="M629.5,676.1 C641.1,673.2 675.8,665.3 698.9,658.9 C722.1,652.6 745.2,644.9 768.4,638.0 C791.5,631.2 814.7,623.6 837.8,617.9 C861.0,612.3 884.1,607.8 907.3,604.1 C930.4,600.3 958.2,596.9 976.7,595.6 C995.2,594.4 1011.4,596.3 1018.4,596.5" fill="none" stroke="#111" stroke-width="2.0" stroke-linejoin="round" />
<path d="M629.5,689.1 C641.1,687.1 675.8,681.5 698.9,677.0 C722.1,672.5 745.2,666.3 768.4,661.9 C791.5,657.5 814.7,653.5 837.8,650.5 C861.0,647.5 887.6,645.2 907.3,644.0 C926.9,642.8 947.8,643.3 955.9,643.2" fill="none" stroke="#111" stroke-width="2.0" stroke-linejoin="round" />
<path d="M629.5,698.6 C641.1,697.5 675.8,695.0 698.9,692.1 C722.1,689.1 745.2,683.8 768.4,680.9 C791.5,678.1 817.2,676.4 837.8,675.2 C858.4,674.1 883.0,674.1 892.0,673.9" fill="none" stroke="#111" stroke-width="2.0" stroke-linejoin="round" />
<path d="M629.5,705.4 C641.1,704.5 675.8,701.6 698.9,700.0 C722.1,698.3 746.9,696.5 768.4,695.6 C789.9,694.8 818.1,694.9 828.1,694.8" fill="none" stroke="#111" stroke-width="2.0" stroke-linejoin="round" />
<path d="M629.5,709.2 C641.1,708.9 676.5,708.0 698.9,707.6 C721.4,707.1 753.3,706.7 764.2,706.5" fill="none" stroke="#111" stroke-width="2.0" stroke-linejoin="round" />
<path d="M629.5,711.6 L698.9,712.2" fill="none" stroke="#111" stroke-width="3.2" stroke-linejoin="round" />
<path d="M629.5,605.1 C632.3,603.3 640.0,597.2 646.2,594.0 C652.4,590.8 658.0,589.1 666.7,586.0 C675.5,582.9 688.0,577.1 698.7,575.3 C709.3,573.4 720.5,574.5 730.7,574.7 C741.0,575.0 751.8,577.2 760.0,576.8 C768.3,576.3 771.7,573.3 780.0,572.0 C788.4,570.7 800.4,569.3 810.0,569.0 C819.7,568.7 828.1,569.4 837.8,570.1 C847.5,570.8 856.8,572.6 868.4,573.4 C879.9,574.1 896.6,575.1 907.3,574.7 C917.9,574.4 920.7,572.1 932.3,571.2 C943.8,570.2 957.7,569.6 976.7,569.0 C995.7,568.5 1034.6,568.1 1046.1,567.9" fill="none" stroke="#111" stroke-width="3.4" stroke-linejoin="round" />
<path d="M942.0,570.4 C947.8,570.1 964.0,569.4 976.7,569.0 C989.4,568.7 1006.8,568.4 1018.4,568.2 C1029.9,568.0 1041.5,568.0 1046.1,567.9" fill="none" stroke="#111" stroke-width="4.6" stroke-linejoin="round" stroke-linecap="round"/>
</g>
<rect x="629.5" y="549.8" width="486.1" height="163.2" fill="none" stroke="#111" stroke-width="2.4"/>
<text transform="matrix(1 0 0 1.15 0 -107.77)" x="621.7" y="718.5" font-size="15.5" text-anchor="end" font-weight="normal" font-style="normal" fill="#2a2a2a" stroke="#2a2a2a" stroke-width="0.3" >0</text>
<text transform="matrix(1 0 0 1.15 0 -99.62)" x="621.7" y="664.2" font-size="15.5" text-anchor="end" font-weight="normal" font-style="normal" fill="#2a2a2a" stroke="#2a2a2a" stroke-width="0.3" >200</text>
<text transform="matrix(1 0 0 1.15 0 -91.47)" x="621.7" y="609.8" font-size="15.5" text-anchor="end" font-weight="normal" font-style="normal" fill="#2a2a2a" stroke="#2a2a2a" stroke-width="0.3" >400</text>
<text transform="matrix(1 0 0 1.15 0 -84.45)" x="585.4" y="563.0" font-size="14.5" text-anchor="start" font-weight="bold" font-style="normal" fill="#111" ><tspan font-style="italic">P</tspan>₁/W</text>
<text transform="matrix(1 0 0 1.15 0 -86.50)" x="585.4" y="576.7" font-size="14.5" text-anchor="start" font-weight="bold" font-style="normal" fill="#111" >n=</text>
<text transform="matrix(1 0 0 1.15 0 -88.50)" x="585.4" y="590.0" font-size="14.5" text-anchor="start" font-weight="bold" font-style="normal" fill="#111" >const</text>
<text transform="matrix(1 0 0 1.15 0 -109.80)" x="629.5" y="732.0" font-size="15.5" text-anchor="middle" font-weight="normal" font-style="normal" fill="#2a2a2a" stroke="#2a2a2a" stroke-width="0.3" >0</text>
<text transform="matrix(1 0 0 1.15 0 -109.80)" x="698.9" y="732.0" font-size="15.5" text-anchor="middle" font-weight="normal" font-style="normal" fill="#2a2a2a" stroke="#2a2a2a" stroke-width="0.3" >5</text>
<text transform="matrix(1 0 0 1.15 0 -109.80)" x="768.4" y="732.0" font-size="15.5" text-anchor="middle" font-weight="normal" font-style="normal" fill="#2a2a2a" stroke="#2a2a2a" stroke-width="0.3" >10</text>
<text transform="matrix(1 0 0 1.15 0 -109.80)" x="837.8" y="732.0" font-size="15.5" text-anchor="middle" font-weight="normal" font-style="normal" fill="#2a2a2a" stroke="#2a2a2a" stroke-width="0.3" >15</text>
<text transform="matrix(1 0 0 1.15 0 -109.80)" x="907.3" y="732.0" font-size="15.5" text-anchor="middle" font-weight="normal" font-style="normal" fill="#2a2a2a" stroke="#2a2a2a" stroke-width="0.3" >20</text>
<text transform="matrix(1 0 0 1.15 0 -109.80)" x="976.7" y="732.0" font-size="15.5" text-anchor="middle" font-weight="normal" font-style="normal" fill="#2a2a2a" stroke="#2a2a2a" stroke-width="0.3" >25</text>
<text transform="matrix(1 0 0 1.15 0 -109.80)" x="1046.1" y="732.0" font-size="15.5" text-anchor="middle" font-weight="normal" font-style="normal" fill="#2a2a2a" stroke="#2a2a2a" stroke-width="0.3" >30</text>
<text transform="matrix(1 0 0 1.15 0 -109.80)" x="1116.0" y="732.0" font-size="15.5" text-anchor="end" font-weight="bold" font-style="normal" fill="#111" textLength="50" lengthAdjust="spacingAndGlyphs"><tspan font-style="italic">Q</tspan>/m³/h</text>
<line x1="628.5" y1="519.3" x2="1115.6" y2="519.3" stroke="#111" stroke-width="2.2"/>
<line x1="629.5" y1="519.3" x2="629.5" y2="525.8" stroke="#111" stroke-width="2"/>
<text transform="matrix(1 0 0 1.15 0 -81.49)" x="629.5" y="543.3" font-size="15.5" text-anchor="middle" font-weight="normal" font-style="normal" fill="#2a2a2a" stroke="#2a2a2a" stroke-width="0.3" >0</text>
<line x1="729.4" y1="519.3" x2="729.4" y2="525.8" stroke="#111" stroke-width="2"/>
<text transform="matrix(1 0 0 1.15 0 -81.49)" x="729.4" y="543.3" font-size="15.5" text-anchor="middle" font-weight="normal" font-style="normal" fill="#2a2a2a" stroke="#2a2a2a" stroke-width="0.3" >2</text>
<line x1="829.4" y1="519.3" x2="829.4" y2="525.8" stroke="#111" stroke-width="2"/>
<text transform="matrix(1 0 0 1.15 0 -81.49)" x="829.4" y="543.3" font-size="15.5" text-anchor="middle" font-weight="normal" font-style="normal" fill="#2a2a2a" stroke="#2a2a2a" stroke-width="0.3" >4</text>
<line x1="929.3" y1="519.3" x2="929.3" y2="525.8" stroke="#111" stroke-width="2"/>
<text transform="matrix(1 0 0 1.15 0 -81.49)" x="929.3" y="543.3" font-size="15.5" text-anchor="middle" font-weight="normal" font-style="normal" fill="#2a2a2a" stroke="#2a2a2a" stroke-width="0.3" >6</text>
<line x1="1029.3" y1="519.3" x2="1029.3" y2="525.8" stroke="#111" stroke-width="2"/>
<text transform="matrix(1 0 0 1.15 0 -81.49)" x="1029.3" y="543.3" font-size="15.5" text-anchor="middle" font-weight="normal" font-style="normal" fill="#2a2a2a" stroke="#2a2a2a" stroke-width="0.3" >8</text>
<text transform="matrix(1 0 0 1.15 0 -81.22)" x="1116.0" y="541.5" font-size="15.5" text-anchor="end" font-weight="bold" font-style="normal" fill="#111" textLength="33" lengthAdjust="spacingAndGlyphs"><tspan font-style="italic">Q</tspan>/l/s</text>
<g clip-path="url(#cC)">
<path d="M629.5,798.9 L698.9,798.9 L768.4,853.4 L837.8,907.9 L878.1,934.1 L926.0,963.0 L973.9,988.1 L1005.9,1005.0 C1003.3,1006.7 995.4,1012.2 990.6,1015.1 C985.7,1018.1 981.3,1020.3 976.7,1022.8 C972.1,1025.3 967.4,1027.7 962.8,1030.1 C958.2,1032.5 953.6,1034.9 948.9,1037.2 C944.3,1039.6 939.7,1041.8 935.0,1044.1 C930.4,1046.3 925.8,1048.5 921.1,1050.7 C916.5,1052.8 911.9,1054.9 907.3,1057.0 C902.6,1059.0 898.0,1061.0 893.4,1063.0 C888.7,1065.0 884.1,1066.9 879.5,1068.8 C874.9,1070.7 870.2,1072.5 865.6,1074.3 C861.0,1076.1 856.3,1077.9 851.7,1079.6 C847.1,1081.3 842.4,1082.9 837.8,1084.5 C833.2,1086.2 828.6,1087.7 823.9,1089.3 C819.3,1090.8 814.7,1092.3 810.0,1093.7 C805.4,1095.2 800.8,1096.6 796.2,1097.9 C791.5,1099.3 786.9,1100.6 782.3,1101.8 C777.6,1103.1 773.0,1104.3 768.4,1105.5 C763.8,1106.7 759.3,1107.7 754.5,1108.9 C749.7,1110.0 742.1,1111.8 739.6,1112.4 L629.5,1112.4 Z" fill="#dcdde0"/>
<path d="M698.9,798.9 L768.4,853.4 L837.8,907.9 L878.1,934.1 L926.0,963.0 L973.9,988.1 L1005.9,1005.0 C1003.3,1006.7 995.4,1012.2 990.6,1015.1 C985.7,1018.1 981.3,1020.3 976.7,1022.8 C972.1,1025.3 967.4,1027.7 962.8,1030.1 C958.2,1032.5 953.6,1034.9 948.9,1037.2 C944.3,1039.6 939.7,1041.8 935.0,1044.1 C930.4,1046.3 925.8,1048.5 921.1,1050.7 C916.5,1052.8 911.9,1054.9 907.3,1057.0 C902.6,1059.0 895.7,1062.0 893.4,1063.0 L629.5,1085.1 L629.5,962.4 L698.9,798.9 Z" fill="#a9aaae"/>
<line x1="698.9" y1="744.4" x2="698.9" y2="1126.0" stroke="#555555" stroke-width="2.0"/>
<line x1="768.4" y1="744.4" x2="768.4" y2="1126.0" stroke="#555555" stroke-width="2.0"/>
<line x1="837.8" y1="744.4" x2="837.8" y2="1126.0" stroke="#555555" stroke-width="2.0"/>
<line x1="907.3" y1="744.4" x2="907.3" y2="1126.0" stroke="#555555" stroke-width="2.0"/>
<line x1="976.7" y1="744.4" x2="976.7" y2="1126.0" stroke="#555555" stroke-width="2.0"/>
<line x1="1046.1" y1="744.4" x2="1046.1" y2="1126.0" stroke="#555555" stroke-width="2.0"/>
<line x1="629.5" y1="1071.5" x2="1115.6" y2="1071.5" stroke="#555555" stroke-width="2.0"/>
<line x1="629.5" y1="1017.0" x2="1115.6" y2="1017.0" stroke="#555555" stroke-width="2.0"/>
<line x1="629.5" y1="962.4" x2="1115.6" y2="962.4" stroke="#555555" stroke-width="2.0"/>
<line x1="629.5" y1="907.9" x2="1115.6" y2="907.9" stroke="#555555" stroke-width="2.0"/>
<line x1="629.5" y1="853.4" x2="1115.6" y2="853.4" stroke="#555555" stroke-width="2.0"/>
<line x1="629.5" y1="798.9" x2="1115.6" y2="798.9" stroke="#555555" stroke-width="2.0"/>
<path d="M629.5,1126.0 C630.5,1125.7 633.7,1125.4 635.7,1124.1 C637.8,1122.8 639.9,1120.9 642.0,1118.4 C644.1,1115.9 646.2,1112.7 648.2,1108.9 C650.3,1105.1 652.4,1100.7 654.5,1095.6 C656.6,1090.6 658.7,1084.9 660.7,1078.5 C662.8,1072.2 664.9,1065.2 667.0,1057.6 C669.1,1050.0 671.2,1041.8 673.2,1033.0 C675.3,1024.1 677.4,1014.6 679.5,1004.5 C681.6,994.3 683.7,983.6 685.7,972.2 C687.8,960.8 689.9,948.8 692.0,936.1 C694.1,923.4 696.2,910.2 698.2,896.2 C700.3,882.3 702.4,867.7 704.5,852.6 C706.6,837.4 708.7,821.5 710.7,805.1 C712.8,788.6 715.5,766.7 717.0,753.8 C718.5,741.0 719.5,732.3 720.0,728.0" fill="none" stroke="#1a1a1a" stroke-width="1.0" stroke-linejoin="round" />
<path d="M629.5,1126.0 C630.5,1125.9 633.7,1125.9 635.7,1125.6 C637.8,1125.4 639.9,1125.0 642.0,1124.5 C644.1,1124.0 646.2,1123.4 648.2,1122.6 C650.3,1121.9 652.4,1121.0 654.5,1120.0 C656.6,1119.0 658.7,1117.8 660.7,1116.6 C662.8,1115.3 664.9,1114.0 667.0,1112.4 C669.1,1110.9 671.2,1109.3 673.2,1107.6 C675.3,1105.8 677.4,1103.9 679.5,1101.9 C681.6,1099.9 683.7,1097.8 685.7,1095.5 C687.8,1093.2 689.9,1090.9 692.0,1088.4 C694.1,1085.8 696.2,1083.2 698.2,1080.4 C700.3,1077.7 702.4,1074.8 704.5,1071.8 C706.6,1068.8 708.7,1065.6 710.7,1062.4 C712.8,1059.1 714.9,1055.7 717.0,1052.2 C719.1,1048.7 721.2,1045.1 723.2,1041.3 C725.3,1037.5 727.4,1033.6 729.5,1029.6 C731.6,1025.6 733.7,1021.5 735.7,1017.2 C737.8,1012.9 739.9,1008.5 742.0,1004.0 C744.1,999.5 746.2,994.9 748.2,990.1 C750.3,985.3 752.4,980.4 754.5,975.4 C756.6,970.4 758.7,965.2 760.7,960.0 C762.8,954.7 764.9,949.3 767.0,943.8 C769.1,938.3 771.2,932.6 773.2,926.8 C775.3,921.1 777.4,915.2 779.5,909.2 C781.6,903.1 783.7,897.0 785.7,890.7 C787.8,884.4 789.9,878.0 792.0,871.5 C794.1,865.0 796.2,858.3 798.2,851.6 C800.3,844.8 802.4,837.9 804.5,830.8 C806.6,823.8 808.7,816.7 810.7,809.4 C812.8,802.1 814.9,794.7 817.0,787.2 C819.1,779.6 821.2,772.0 823.2,764.2 C825.3,756.4 827.9,746.5 829.5,740.5 C831.1,734.5 832.2,730.1 832.7,728.0" fill="none" stroke="#1a1a1a" stroke-width="1.0" stroke-linejoin="round" />
<path d="M629.5,1126.0 C630.5,1126.0 633.7,1126.0 635.7,1125.9 C637.8,1125.8 639.9,1125.7 642.0,1125.5 C644.1,1125.3 646.2,1125.1 648.2,1124.9 C650.3,1124.6 652.4,1124.3 654.5,1124.0 C656.6,1123.6 658.7,1123.2 660.7,1122.8 C662.8,1122.4 664.9,1121.9 667.0,1121.4 C669.1,1120.9 671.2,1120.4 673.2,1119.8 C675.3,1119.2 677.4,1118.6 679.5,1117.9 C681.6,1117.2 683.7,1116.5 685.7,1115.7 C687.8,1115.0 689.9,1114.2 692.0,1113.3 C694.1,1112.5 696.2,1111.6 698.2,1110.6 C700.3,1109.7 702.4,1108.7 704.5,1107.7 C706.6,1106.7 708.7,1105.6 710.7,1104.5 C712.8,1103.4 714.9,1102.3 717.0,1101.1 C719.1,1099.9 721.2,1098.7 723.2,1097.4 C725.3,1096.2 727.4,1094.9 729.5,1093.5 C731.6,1092.1 733.7,1090.7 735.7,1089.3 C737.8,1087.9 739.9,1086.4 742.0,1084.9 C744.1,1083.3 746.2,1081.8 748.2,1080.2 C750.3,1078.6 752.4,1076.9 754.5,1075.2 C756.6,1073.5 758.7,1071.8 760.7,1070.0 C762.8,1068.2 764.9,1066.4 767.0,1064.5 C769.1,1062.7 771.2,1060.8 773.2,1058.8 C775.3,1056.9 777.4,1054.9 779.5,1052.9 C781.6,1050.8 783.7,1048.8 785.7,1046.6 C787.8,1044.5 789.9,1042.4 792.0,1040.2 C794.1,1038.0 796.2,1035.7 798.2,1033.4 C800.3,1031.2 802.4,1028.8 804.5,1026.5 C806.6,1024.1 808.7,1021.7 810.7,1019.2 C812.8,1016.8 814.9,1014.3 817.0,1011.7 C819.1,1009.2 821.2,1006.6 823.2,1004.0 C825.3,1001.4 827.4,998.7 829.5,996.0 C831.6,993.3 833.7,990.5 835.7,987.7 C837.8,984.9 839.9,982.1 842.0,979.2 C844.1,976.4 846.2,973.4 848.2,970.5 C850.3,967.5 852.4,964.5 854.5,961.5 C856.6,958.4 858.7,955.3 860.7,952.2 C862.8,949.1 864.9,945.9 867.0,942.7 C869.1,939.4 871.2,936.2 873.2,932.9 C875.3,929.6 877.4,926.2 879.5,922.9 C881.6,919.5 883.7,916.0 885.7,912.6 C887.8,909.1 889.9,905.6 892.0,902.0 C894.1,898.5 896.1,894.9 898.2,891.2 C900.3,887.6 902.4,883.9 904.5,880.2 C906.6,876.5 908.6,872.7 910.7,868.9 C912.8,865.1 914.9,861.2 917.0,857.3 C919.1,853.5 921.1,849.5 923.2,845.5 C925.3,841.6 927.4,837.5 929.5,833.5 C931.6,829.4 933.6,825.3 935.7,821.2 C937.8,817.0 939.9,812.8 942.0,808.6 C944.1,804.4 946.1,800.1 948.2,795.8 C950.3,791.5 952.4,787.1 954.5,782.7 C956.6,778.3 958.6,773.8 960.7,769.4 C962.8,764.9 964.9,760.3 967.0,755.8 C969.1,751.2 971.2,746.6 973.2,741.9 C975.3,737.3 978.4,730.3 979.4,728.0" fill="none" stroke="#1a1a1a" stroke-width="1.0" stroke-linejoin="round" />
<path d="M629.5,1126.0 C630.5,1126.0 633.7,1126.0 635.7,1126.0 C637.8,1125.9 639.9,1125.9 642.0,1125.8 C644.1,1125.7 646.2,1125.7 648.2,1125.6 C650.3,1125.5 652.4,1125.4 654.5,1125.2 C656.6,1125.1 658.7,1125.0 660.7,1124.8 C662.8,1124.7 664.9,1124.5 667.0,1124.3 C669.1,1124.1 671.2,1123.9 673.2,1123.7 C675.3,1123.5 677.4,1123.2 679.5,1123.0 C681.6,1122.7 683.7,1122.4 685.7,1122.2 C687.8,1121.9 689.9,1121.6 692.0,1121.3 C694.1,1120.9 696.2,1120.6 698.2,1120.3 C700.3,1119.9 702.4,1119.5 704.5,1119.2 C706.6,1118.8 708.7,1118.4 710.7,1118.0 C712.8,1117.6 714.9,1117.1 717.0,1116.7 C719.1,1116.3 721.2,1115.8 723.2,1115.3 C725.3,1114.8 727.4,1114.4 729.5,1113.8 C731.6,1113.3 733.7,1112.8 735.7,1112.3 C737.8,1111.7 739.9,1111.2 742.0,1110.6 C744.1,1110.0 746.2,1109.5 748.2,1108.9 C750.3,1108.3 752.4,1107.6 754.5,1107.0 C756.6,1106.4 758.7,1105.7 760.7,1105.1 C762.8,1104.4 764.9,1103.7 767.0,1103.0 C769.1,1102.3 771.2,1101.6 773.2,1100.9 C775.3,1100.2 777.4,1099.4 779.5,1098.7 C781.6,1097.9 783.7,1097.1 785.7,1096.3 C787.8,1095.5 789.9,1094.7 792.0,1093.9 C794.1,1093.1 796.2,1092.2 798.2,1091.4 C800.3,1090.5 802.4,1089.7 804.5,1088.8 C806.6,1087.9 808.7,1087.0 810.7,1086.1 C812.8,1085.2 814.9,1084.2 817.0,1083.3 C819.1,1082.3 821.2,1081.4 823.2,1080.4 C825.3,1079.4 827.4,1078.4 829.5,1077.4 C831.6,1076.4 833.7,1075.3 835.7,1074.3 C837.8,1073.3 839.9,1072.2 842.0,1071.1 C844.1,1070.0 846.2,1069.0 848.2,1067.8 C850.3,1066.7 852.4,1065.6 854.5,1064.5 C856.6,1063.3 858.7,1062.2 860.7,1061.0 C862.8,1059.8 864.9,1058.7 867.0,1057.4 C869.1,1056.2 871.2,1055.0 873.2,1053.8 C875.3,1052.6 877.4,1051.3 879.5,1050.0 C881.6,1048.8 883.7,1047.5 885.7,1046.2 C887.8,1044.9 889.9,1043.6 892.0,1042.3 C894.1,1040.9 896.1,1039.6 898.2,1038.2 C900.3,1036.9 902.4,1035.5 904.5,1034.1 C906.6,1032.7 908.6,1031.3 910.7,1029.9 C912.8,1028.4 914.9,1027.0 917.0,1025.5 C919.1,1024.1 921.1,1022.6 923.2,1021.1 C925.3,1019.6 927.4,1018.1 929.5,1016.6 C931.6,1015.1 933.6,1013.6 935.7,1012.0 C937.8,1010.5 939.9,1008.9 942.0,1007.3 C944.1,1005.7 946.1,1004.1 948.2,1002.5 C950.3,1000.9 952.4,999.3 954.5,997.6 C956.6,996.0 958.6,994.3 960.7,992.6 C962.8,991.0 964.9,989.3 967.0,987.6 C969.1,985.9 971.1,984.1 973.2,982.4 C975.3,980.7 977.4,978.9 979.5,977.1 C981.6,975.4 983.6,973.6 985.7,971.8 C987.8,970.0 989.9,968.1 992.0,966.3 C994.1,964.5 996.1,962.6 998.2,960.7 C1000.3,958.9 1002.4,957.0 1004.5,955.1 C1006.6,953.2 1008.6,951.3 1010.7,949.4 C1012.8,947.4 1014.9,945.5 1017.0,943.5 C1019.1,941.6 1021.1,939.6 1023.2,937.6 C1025.3,935.6 1027.4,933.6 1029.5,931.5 C1031.6,929.5 1033.6,927.5 1035.7,925.4 C1037.8,923.4 1039.9,921.3 1042.0,919.2 C1044.1,917.1 1046.1,915.0 1048.2,912.9 C1050.3,910.8 1052.4,908.6 1054.5,906.5 C1056.6,904.3 1058.6,902.2 1060.7,900.0 C1062.8,897.8 1064.9,895.6 1067.0,893.4 C1069.1,891.2 1071.1,888.9 1073.2,886.7 C1075.3,884.4 1077.4,882.2 1079.5,879.9 C1081.6,877.6 1083.6,875.3 1085.7,873.0 C1087.8,870.7 1089.9,868.4 1092.0,866.0 C1094.1,863.7 1096.1,861.3 1098.2,859.0 C1100.3,856.6 1102.4,854.2 1104.5,851.8 C1106.6,849.4 1108.6,847.0 1110.7,844.5 C1112.8,842.1 1114.9,839.6 1117.0,837.2 C1119.1,834.7 1121.1,832.2 1123.2,829.7 C1125.3,827.2 1128.4,823.4 1129.5,822.2" fill="none" stroke="#1a1a1a" stroke-width="1.0" stroke-linejoin="round" />
<path d="M629.5,1126.0 C630.5,1126.0 633.7,1126.0 635.7,1126.0 C637.8,1126.0 639.9,1126.0 642.0,1125.9 C644.1,1125.9 646.2,1125.9 648.2,1125.9 C650.3,1125.8 652.4,1125.8 654.5,1125.8 C656.6,1125.7 658.7,1125.7 660.7,1125.6 C662.8,1125.6 664.9,1125.5 667.0,1125.5 C669.1,1125.4 671.2,1125.3 673.2,1125.3 C675.3,1125.2 677.4,1125.1 679.5,1125.0 C681.6,1125.0 683.7,1124.9 685.7,1124.8 C687.8,1124.7 689.9,1124.6 692.0,1124.5 C694.1,1124.4 696.2,1124.3 698.2,1124.2 C700.3,1124.1 702.4,1124.0 704.5,1123.9 C706.6,1123.7 708.7,1123.6 710.7,1123.5 C712.8,1123.4 714.9,1123.2 717.0,1123.1 C719.1,1122.9 721.2,1122.8 723.2,1122.6 C725.3,1122.5 727.4,1122.3 729.5,1122.2 C731.6,1122.0 733.7,1121.9 735.7,1121.7 C737.8,1121.5 739.9,1121.3 742.0,1121.2 C744.1,1121.0 746.2,1120.8 748.2,1120.6 C750.3,1120.4 752.4,1120.2 754.5,1120.0 C756.6,1119.8 758.7,1119.6 760.7,1119.4 C762.8,1119.2 764.9,1119.0 767.0,1118.8 C769.1,1118.6 771.2,1118.3 773.2,1118.1 C775.3,1117.9 777.4,1117.7 779.5,1117.4 C781.6,1117.2 783.7,1116.9 785.7,1116.7 C787.8,1116.4 789.9,1116.2 792.0,1115.9 C794.1,1115.7 796.2,1115.4 798.2,1115.1 C800.3,1114.9 802.4,1114.6 804.5,1114.3 C806.6,1114.0 808.7,1113.8 810.7,1113.5 C812.8,1113.2 814.9,1112.9 817.0,1112.6 C819.1,1112.3 821.2,1112.0 823.2,1111.7 C825.3,1111.4 827.4,1111.1 829.5,1110.7 C831.6,1110.4 833.7,1110.1 835.7,1109.8 C837.8,1109.4 839.9,1109.1 842.0,1108.8 C844.1,1108.4 846.2,1108.1 848.2,1107.7 C850.3,1107.4 852.4,1107.0 854.5,1106.7 C856.6,1106.3 858.7,1106.0 860.7,1105.6 C862.8,1105.2 864.9,1104.9 867.0,1104.5 C869.1,1104.1 871.2,1103.7 873.2,1103.3 C875.3,1102.9 877.4,1102.6 879.5,1102.2 C881.6,1101.8 883.7,1101.4 885.7,1100.9 C887.8,1100.5 889.9,1100.1 892.0,1099.7 C894.1,1099.3 896.1,1098.9 898.2,1098.4 C900.3,1098.0 902.4,1097.6 904.5,1097.1 C906.6,1096.7 908.6,1096.3 910.7,1095.8 C912.8,1095.4 914.9,1094.9 917.0,1094.5 C919.1,1094.0 921.1,1093.5 923.2,1093.1 C925.3,1092.6 927.4,1092.1 929.5,1091.7 C931.6,1091.2 933.6,1090.7 935.7,1090.2 C937.8,1089.7 939.9,1089.2 942.0,1088.7 C944.1,1088.2 946.1,1087.7 948.2,1087.2 C950.3,1086.7 952.4,1086.2 954.5,1085.7 C956.6,1085.2 958.6,1084.7 960.7,1084.1 C962.8,1083.6 964.9,1083.1 967.0,1082.5 C969.1,1082.0 971.1,1081.5 973.2,1080.9 C975.3,1080.4 977.4,1079.8 979.5,1079.3 C981.6,1078.7 983.6,1078.1 985.7,1077.6 C987.8,1077.0 989.9,1076.4 992.0,1075.9 C994.1,1075.3 996.1,1074.7 998.2,1074.1 C1000.3,1073.5 1002.4,1072.9 1004.5,1072.3 C1006.6,1071.7 1008.6,1071.1 1010.7,1070.5 C1012.8,1069.9 1014.9,1069.3 1017.0,1068.7 C1019.1,1068.1 1021.1,1067.5 1023.2,1066.8 C1025.3,1066.2 1027.4,1065.6 1029.5,1065.0 C1031.6,1064.3 1033.6,1063.7 1035.7,1063.0 C1037.8,1062.4 1039.9,1061.7 1042.0,1061.1 C1044.1,1060.4 1046.1,1059.8 1048.2,1059.1 C1050.3,1058.4 1052.4,1057.8 1054.5,1057.1 C1056.6,1056.4 1058.6,1055.7 1060.7,1055.0 C1062.8,1054.4 1064.9,1053.7 1067.0,1053.0 C1069.1,1052.3 1071.1,1051.6 1073.2,1050.9 C1075.3,1050.2 1077.4,1049.5 1079.5,1048.7 C1081.6,1048.0 1083.6,1047.3 1085.7,1046.6 C1087.8,1045.8 1089.9,1045.1 1092.0,1044.4 C1094.1,1043.6 1096.1,1042.9 1098.2,1042.2 C1100.3,1041.4 1102.4,1040.7 1104.5,1039.9 C1106.6,1039.2 1108.6,1038.4 1110.7,1037.6 C1112.8,1036.9 1114.9,1036.1 1117.0,1035.3 C1119.1,1034.5 1121.1,1033.8 1123.2,1033.0 C1125.3,1032.2 1128.4,1031.0 1129.5,1030.6" fill="none" stroke="#1a1a1a" stroke-width="1.0" stroke-linejoin="round" />
<path d="M629.5,826.1 L733.7,826.1" fill="none" stroke="#111" stroke-width="2.3" stroke-linejoin="round" />
<path d="M629.5,853.4 L768.4,853.4" fill="none" stroke="#111" stroke-width="2.3" stroke-linejoin="round" />
<path d="M629.5,880.7 L803.1,880.7" fill="none" stroke="#111" stroke-width="2.3" stroke-linejoin="round" />
<path d="M629.5,907.9 L837.8,907.9" fill="none" stroke="#111" stroke-width="2.3" stroke-linejoin="round" />
<path d="M629.5,935.2 L879.9,935.2" fill="none" stroke="#111" stroke-width="2.3" stroke-linejoin="round" />
<path d="M629.5,962.4 L925.1,962.4" fill="none" stroke="#111" stroke-width="2.3" stroke-linejoin="round" />
<path d="M629.5,989.7 L977.0,989.7" fill="none" stroke="#111" stroke-width="2.3" stroke-linejoin="round" />
<path d="M629.5,1017.0 L987.2,1017.0" fill="none" stroke="#111" stroke-width="2.3" stroke-linejoin="round" />
<path d="M629.5,1044.2 L934.7,1044.2" fill="none" stroke="#111" stroke-width="2.3" stroke-linejoin="round" />
<path d="M629.5,1071.5 L872.7,1071.5" fill="none" stroke="#111" stroke-width="2.3" stroke-linejoin="round" />
<path d="M629.5,1098.7 L793.2,1098.7" fill="none" stroke="#111" stroke-width="2.3" stroke-linejoin="round" />
<path d="M629.5,976.1 L733.7,826.1" fill="none" stroke="#111" stroke-width="2.3" stroke-linejoin="round" />
<path d="M629.5,989.7 L768.4,853.4" fill="none" stroke="#111" stroke-width="2.3" stroke-linejoin="round" />
<path d="M629.5,1003.3 L803.1,880.7" fill="none" stroke="#111" stroke-width="2.3" stroke-linejoin="round" />
<path d="M629.5,1017.0 L837.8,907.9" fill="none" stroke="#111" stroke-width="2.3" stroke-linejoin="round" />
<path d="M629.5,1030.6 L879.9,935.2" fill="none" stroke="#111" stroke-width="2.3" stroke-linejoin="round" />
<path d="M629.5,1044.2 L925.1,962.4" fill="none" stroke="#111" stroke-width="2.3" stroke-linejoin="round" />
<path d="M629.5,1057.8 L977.0,989.7" fill="none" stroke="#111" stroke-width="2.3" stroke-linejoin="round" />
<path d="M629.5,1071.5 L972.5,1025.1" fill="none" stroke="#111" stroke-width="2.3" stroke-linejoin="round" />
<path d="M629.5,1085.1 L893.4,1063.0" fill="none" stroke="#111" stroke-width="3.6" stroke-linejoin="round" />
<path d="M629.5,962.4 L698.9,798.9" fill="none" stroke="#111" stroke-width="3.8" stroke-linejoin="round" />
<path d="M629.5,1056.2 C638.8,1056.2 666.3,1056.0 685.1,1056.2 C703.8,1056.4 724.6,1056.6 741.7,1057.6 C758.8,1058.6 772.3,1059.8 787.8,1062.2 C803.4,1064.6 815.5,1066.3 835.0,1071.8 C854.6,1077.2 889.3,1089.4 905.0,1094.9 C920.8,1100.4 925.4,1103.1 929.5,1104.7" fill="none" stroke="#111" stroke-width="3.6" stroke-linejoin="round" />
<path d="M629.5,798.9 L698.9,798.9 L768.4,853.4 L837.8,907.9 L878.1,934.1 L926.0,963.0 L973.9,988.1 L1005.9,1005.0" fill="none" stroke="#111" stroke-width="3.8" stroke-linejoin="miter"/>
<path d="M1005.9,1005.0 C1003.3,1006.7 995.4,1012.2 990.6,1015.1 C985.7,1018.1 981.3,1020.3 976.7,1022.8 C972.1,1025.3 967.4,1027.7 962.8,1030.1 C958.2,1032.5 953.6,1034.9 948.9,1037.2 C944.3,1039.6 939.7,1041.8 935.0,1044.1 C930.4,1046.3 925.8,1048.5 921.1,1050.7 C916.5,1052.8 911.9,1054.9 907.3,1057.0 C902.6,1059.0 898.0,1061.0 893.4,1063.0 C888.7,1065.0 884.1,1066.9 879.5,1068.8 C874.9,1070.7 870.2,1072.5 865.6,1074.3 C861.0,1076.1 856.3,1077.9 851.7,1079.6 C847.1,1081.3 842.4,1082.9 837.8,1084.5 C833.2,1086.2 828.6,1087.7 823.9,1089.3 C819.3,1090.8 814.7,1092.3 810.0,1093.7 C805.4,1095.2 800.8,1096.6 796.2,1097.9 C791.5,1099.3 786.9,1100.6 782.3,1101.8 C777.6,1103.1 773.0,1104.3 768.4,1105.5 C763.8,1106.7 759.3,1107.7 754.5,1108.9 C749.7,1110.0 742.1,1111.8 739.6,1112.4 L629.5,1112.4" fill="none" stroke="#111" stroke-width="3.6" stroke-linejoin="round"/>
</g>
<text x="803" y="874" font-size="14.5" fill="#2a2a2a" transform="rotate(39 803 874)">max.</text>
<text transform="matrix(1 0 0 1.15 0 -166.65)" x="936.0" y="1111.0" font-size="15.5" text-anchor="start" font-weight="normal" font-style="normal" fill="#2a2a2a" stroke="#2a2a2a" stroke-width="0.3" textLength="75" lengthAdjust="spacingAndGlyphs">1490 1/min</text>
<rect x="907.5" y="744.4" width="208.1" height="80.8" fill="#fff" stroke="#111" stroke-width="2"/>
<text transform="matrix(1 0 0 1.15 0 -114.51)" x="915.7" y="763.4" font-size="15.5" text-anchor="start" font-weight="bold" font-style="normal" fill="#111" textLength="155" lengthAdjust="spacingAndGlyphs">Wilo-Stratos MAXO</text>
<text transform="matrix(1 0 0 1.15 0 -117.79)" x="915.7" y="785.3" font-size="15.5" text-anchor="start" font-weight="bold" font-style="normal" fill="#111" textLength="79" lengthAdjust="spacingAndGlyphs">50/0,5-12</text>
<text transform="matrix(1 0 0 1.15 0 -120.93)" x="915.7" y="806.2" font-size="14" text-anchor="start" font-weight="normal" font-style="normal" fill="#333" stroke="#333" stroke-width="0.3" textLength="111" lengthAdjust="spacingAndGlyphs">1~230 V - DN 50</text>
<rect x="629.5" y="744.4" width="486.1" height="381.6" fill="none" stroke="#111" stroke-width="2.4"/>
<text transform="matrix(1 0 0 1.15 0 -169.72)" x="621.0" y="1131.5" font-size="15.5" text-anchor="end" font-weight="normal" font-style="normal" fill="#2a2a2a" stroke="#2a2a2a" stroke-width="0.3" >0</text>
<text transform="matrix(1 0 0 1.15 0 -161.55)" x="621.0" y="1077.0" font-size="15.5" text-anchor="end" font-weight="normal" font-style="normal" fill="#2a2a2a" stroke="#2a2a2a" stroke-width="0.3" >2</text>
<text transform="matrix(1 0 0 1.15 0 -153.37)" x="621.0" y="1022.5" font-size="15.5" text-anchor="end" font-weight="normal" font-style="normal" fill="#2a2a2a" stroke="#2a2a2a" stroke-width="0.3" >4</text>
<text transform="matrix(1 0 0 1.15 0 -145.19)" x="621.0" y="967.9" font-size="15.5" text-anchor="end" font-weight="normal" font-style="normal" fill="#2a2a2a" stroke="#2a2a2a" stroke-width="0.3" >6</text>
<text transform="matrix(1 0 0 1.15 0 -137.01)" x="621.0" y="913.4" font-size="15.5" text-anchor="end" font-weight="normal" font-style="normal" fill="#2a2a2a" stroke="#2a2a2a" stroke-width="0.3" >8</text>
<text transform="matrix(1 0 0 1.15 0 -128.83)" x="621.0" y="858.9" font-size="15.5" text-anchor="end" font-weight="normal" font-style="normal" fill="#2a2a2a" stroke="#2a2a2a" stroke-width="0.3" >10</text>
<text transform="matrix(1 0 0 1.15 0 -120.66)" x="621.0" y="804.4" font-size="15.5" text-anchor="end" font-weight="normal" font-style="normal" fill="#2a2a2a" stroke="#2a2a2a" stroke-width="0.3" >12</text>
<text transform="matrix(1 0 0 1.15 0 -113.83)" x="621.0" y="758.9" font-size="15.5" text-anchor="end" font-weight="bold" font-style="normal" fill="#111" ><tspan font-style="italic">H</tspan>/m</text>
<text transform="matrix(1 0 0 1.15 0 -171.78)" x="629.5" y="1145.2" font-size="15.5" text-anchor="middle" font-weight="normal" font-style="normal" fill="#2a2a2a" stroke="#2a2a2a" stroke-width="0.3" >0</text>
<text transform="matrix(1 0 0 1.15 0 -171.78)" x="698.9" y="1145.2" font-size="15.5" text-anchor="middle" font-weight="normal" font-style="normal" fill="#2a2a2a" stroke="#2a2a2a" stroke-width="0.3" >5</text>
<text transform="matrix(1 0 0 1.15 0 -171.78)" x="768.4" y="1145.2" font-size="15.5" text-anchor="middle" font-weight="normal" font-style="normal" fill="#2a2a2a" stroke="#2a2a2a" stroke-width="0.3" >10</text>
<text transform="matrix(1 0 0 1.15 0 -171.78)" x="837.8" y="1145.2" font-size="15.5" text-anchor="middle" font-weight="normal" font-style="normal" fill="#2a2a2a" stroke="#2a2a2a" stroke-width="0.3" >15</text>
<text transform="matrix(1 0 0 1.15 0 -171.78)" x="907.3" y="1145.2" font-size="15.5" text-anchor="middle" font-weight="normal" font-style="normal" fill="#2a2a2a" stroke="#2a2a2a" stroke-width="0.3" >20</text>
<text transform="matrix(1 0 0 1.15 0 -171.78)" x="976.7" y="1145.2" font-size="15.5" text-anchor="middle" font-weight="normal" font-style="normal" fill="#2a2a2a" stroke="#2a2a2a" stroke-width="0.3" >25</text>
<text transform="matrix(1 0 0 1.15 0 -171.78)" x="1046.1" y="1145.2" font-size="15.5" text-anchor="middle" font-weight="normal" font-style="normal" fill="#2a2a2a" stroke="#2a2a2a" stroke-width="0.3" >30</text>
<text transform="matrix(1 0 0 1.15 0 -171.78)" x="1116.0" y="1145.2" font-size="15.5" text-anchor="end" font-weight="bold" font-style="normal" fill="#111" textLength="50" lengthAdjust="spacingAndGlyphs"><tspan font-style="italic">Q</tspan>/m³/h</text>
<line x1="1115.6" y1="1126.0" x2="1121.6" y2="1126.0" stroke="#111" stroke-width="2"/>
<text transform="matrix(1 0 0 1.15 0 -169.72)" x="1128.0" y="1131.5" font-size="15.5" text-anchor="start" font-weight="normal" font-style="normal" fill="#2a2a2a" stroke="#2a2a2a" stroke-width="0.3" >0</text>
<line x1="1115.6" y1="1070.4" x2="1121.6" y2="1070.4" stroke="#111" stroke-width="2"/>
<text transform="matrix(1 0 0 1.15 0 -161.38)" x="1128.0" y="1075.9" font-size="15.5" text-anchor="start" font-weight="normal" font-style="normal" fill="#2a2a2a" stroke="#2a2a2a" stroke-width="0.3" >20</text>
<line x1="1115.6" y1="1014.8" x2="1121.6" y2="1014.8" stroke="#111" stroke-width="2"/>
<text transform="matrix(1 0 0 1.15 0 -153.04)" x="1128.0" y="1020.3" font-size="15.5" text-anchor="start" font-weight="normal" font-style="normal" fill="#2a2a2a" stroke="#2a2a2a" stroke-width="0.3" >40</text>
<line x1="1115.6" y1="959.1" x2="1121.6" y2="959.1" stroke="#111" stroke-width="2"/>
<text transform="matrix(1 0 0 1.15 0 -144.70)" x="1128.0" y="964.6" font-size="15.5" text-anchor="start" font-weight="normal" font-style="normal" fill="#2a2a2a" stroke="#2a2a2a" stroke-width="0.3" >60</text>
<line x1="1115.6" y1="903.5" x2="1121.6" y2="903.5" stroke="#111" stroke-width="2"/>
<text transform="matrix(1 0 0 1.15 0 -136.35)" x="1128.0" y="909.0" font-size="15.5" text-anchor="start" font-weight="normal" font-style="normal" fill="#2a2a2a" stroke="#2a2a2a" stroke-width="0.3" >80</text>
<line x1="1115.6" y1="847.9" x2="1121.6" y2="847.9" stroke="#111" stroke-width="2"/>
<text transform="matrix(1 0 0 1.15 0 -128.01)" x="1128.0" y="853.4" font-size="15.5" text-anchor="start" font-weight="normal" font-style="normal" fill="#2a2a2a" stroke="#2a2a2a" stroke-width="0.3" >100</text>
<line x1="1115.6" y1="792.3" x2="1121.6" y2="792.3" stroke="#111" stroke-width="2"/>
<text transform="matrix(1 0 0 1.15 0 -119.67)" x="1128.0" y="797.8" font-size="15.5" text-anchor="start" font-weight="normal" font-style="normal" fill="#2a2a2a" stroke="#2a2a2a" stroke-width="0.3" >120</text>
<text transform="matrix(1 0 0 1.15 0 -113.64)" x="1119.5" y="757.6" font-size="15.5" text-anchor="start" font-weight="bold" font-style="italic" fill="#111" >p/<tspan font-style="normal">kPa</tspan></text>
<g clip-path="url(#cD)">
<path d="M76.0,390.7 C79.0,389.5 85.2,387.6 94.0,383.3 C102.8,379.0 122.9,367.8 128.7,364.7" fill="none"/>
<path d="M76.0,390.7 L94.0,383.3 L128.7,364.7 L148.7,350.0 C154.0,349.8 169.4,348.6 180.7,348.7 C192.0,348.8 206.8,351.1 216.7,350.7 C226.6,350.2 231.7,347.3 240.0,346.0 C248.3,344.7 257.9,343.1 266.7,342.7 C275.5,342.2 282.7,342.3 292.7,343.3 C302.7,344.3 314.6,347.8 326.7,348.7 C338.8,349.6 355.3,349.1 365.3,348.7 C375.3,348.2 374.8,347.0 386.7,346.0 C398.6,345.0 423.5,343.1 436.8,342.5 C450.1,341.9 461.7,342.5 466.7,342.5 C462.2,349.1 451.1,371.0 440.0,382.0 C428.9,393.0 413.3,400.2 400.0,408.7 C386.7,417.1 373.3,425.5 360.0,432.7 C346.7,439.9 331.2,446.9 320.0,452.0 C308.8,457.1 302.9,459.7 292.7,463.0 C282.5,466.3 269.9,468.4 259.0,471.7 C248.1,474.9 236.0,479.3 227.0,482.5 C218.0,485.7 210.2,489.2 205.0,491.0 C199.8,492.8 197.5,493.1 196.0,493.5 L76.0,493.5 Z" fill="#dcdde0"/>
<line x1="148.8" y1="323.4" x2="148.8" y2="493.0" stroke="#555555" stroke-width="2.0"/>
<line x1="221.0" y1="323.4" x2="221.0" y2="493.0" stroke="#555555" stroke-width="2.0"/>
<line x1="293.2" y1="323.4" x2="293.2" y2="493.0" stroke="#555555" stroke-width="2.0"/>
<line x1="365.5" y1="323.4" x2="365.5" y2="493.0" stroke="#555555" stroke-width="2.0"/>
<line x1="437.7" y1="323.4" x2="437.7" y2="493.0" stroke="#555555" stroke-width="2.0"/>
<line x1="509.9" y1="323.4" x2="509.9" y2="493.0" stroke="#555555" stroke-width="2.0"/>
<line x1="76.6" y1="436.5" x2="582.1" y2="436.5" stroke="#555555" stroke-width="2.0"/>
<line x1="76.6" y1="379.9" x2="582.1" y2="379.9" stroke="#555555" stroke-width="2.0"/>
<path d="M76.0,403.3 C79.5,402.0 87.0,399.9 96.7,395.3 C106.4,390.8 122.5,382.2 134.0,376.0 C145.6,369.8 158.4,362.1 166.0,358.0 C173.6,353.9 177.1,352.4 179.3,351.3" fill="none" stroke="#111" stroke-width="2.0" stroke-linejoin="round"/>
<path d="M76.0,414.7 C82.1,412.2 101.2,404.9 112.7,400.0 C124.2,395.1 134.0,390.5 144.7,385.3 C155.4,380.1 165.8,374.2 176.7,368.7 C187.6,363.1 204.4,354.8 210.0,352.0" fill="none" stroke="#111" stroke-width="2.0" stroke-linejoin="round"/>
<path d="M76.0,424.7 C81.7,422.9 97.2,418.9 110.0,414.0 C122.8,409.1 141.1,400.4 152.7,395.3 C164.2,390.2 166.4,389.7 179.3,383.3 C192.2,376.9 218.6,362.8 230.0,356.7 C241.4,350.6 245.0,348.4 248.0,346.7" fill="none" stroke="#111" stroke-width="2.0" stroke-linejoin="round"/>
<path d="M76.0,434.0 C81.7,432.3 91.7,430.4 110.0,424.0 C128.3,417.6 168.9,402.1 186.0,395.3 C203.1,388.5 202.0,388.5 212.7,383.3 C223.4,378.1 237.0,370.4 250.0,364.0 C263.0,357.6 283.9,347.9 290.7,344.7" fill="none" stroke="#111" stroke-width="2.0" stroke-linejoin="round"/>
<path d="M76.0,443.3 C88.0,439.9 124.0,430.9 148.0,423.0 C172.0,415.1 202.2,402.6 220.0,396.0 C237.8,389.4 242.6,387.9 254.7,383.3 C266.8,378.8 279.1,374.4 292.7,368.7 C306.2,363.0 328.8,352.3 336.0,349.0" fill="none" stroke="#111" stroke-width="2.0" stroke-linejoin="round"/>
<path d="M76.0,452.0 C88.0,449.2 124.0,441.7 148.0,435.0 C172.0,428.3 195.9,419.9 220.0,412.0 C244.1,404.1 272.7,395.0 292.7,387.3 C312.7,379.6 325.9,372.7 340.0,366.0 C354.1,359.3 371.1,350.4 377.3,347.3" fill="none" stroke="#111" stroke-width="2.0" stroke-linejoin="round"/>
<path d="M76.0,460.0 C88.0,457.7 124.0,451.3 148.0,446.0 C172.0,440.7 195.9,434.6 220.0,428.0 C244.1,421.4 272.0,413.7 292.7,406.7 C313.4,399.7 327.8,392.8 344.0,386.0 C360.2,379.2 375.3,372.9 390.0,366.0 C404.7,359.1 425.0,348.2 432.0,344.7" fill="none" stroke="#111" stroke-width="2.0" stroke-linejoin="round"/>
<path d="M76.0,469.3 C88.0,467.2 124.0,461.7 148.0,457.0 C172.0,452.3 195.9,446.6 220.0,441.3 C244.1,436.0 266.7,432.5 292.7,425.3 C318.7,418.1 358.1,404.6 376.0,398.0 C393.9,391.4 388.2,391.6 400.0,386.0 C411.8,380.4 438.9,368.2 446.7,364.7" fill="none" stroke="#111" stroke-width="2.0" stroke-linejoin="round"/>
<path d="M76.0,476.0 C88.0,474.5 124.0,470.3 148.0,467.0 C172.0,463.7 195.9,460.3 220.0,456.0 C244.1,451.7 273.8,445.4 292.7,441.3 C311.6,437.2 322.5,434.3 333.3,431.3 C344.1,428.3 347.3,426.6 357.3,423.3 C367.3,420.0 387.3,413.3 393.3,411.3" fill="none" stroke="#111" stroke-width="2.0" stroke-linejoin="round"/>
<path d="M76.0,478.5 C88.0,477.6 124.0,474.9 148.0,473.0 C172.0,471.1 195.9,470.3 220.0,467.3 C244.1,464.3 276.7,457.9 292.7,455.0 C308.7,452.1 309.7,451.2 316.0,450.0 C322.3,448.8 328.2,448.3 330.7,448.0" fill="none" stroke="#111" stroke-width="2.0" stroke-linejoin="round"/>
<path d="M76.0,482.0 C88.0,481.7 124.0,480.7 148.0,480.0 C172.0,479.3 203.0,478.7 220.0,478.0 C237.0,477.3 241.3,477.2 250.0,476.0 C258.7,474.8 268.3,471.8 272.0,471.0" fill="none" stroke="#111" stroke-width="2.0" stroke-linejoin="round"/>
<path d="M76.0,489.0 L130.0,488.6 L190.0,488.3" fill="none" stroke="#111" stroke-width="3.6" stroke-linejoin="round"/>
<path d="M76.0,477.0 C88.0,475.8 124.0,472.4 148.0,470.0 C172.0,467.6 195.9,464.8 220.0,462.7 C244.1,460.6 272.7,458.2 292.7,457.3 C312.7,456.4 324.1,456.4 340.0,457.0 C355.9,457.6 380.0,460.1 388.0,460.7" fill="none" stroke="#111" stroke-width="3.6" stroke-linejoin="round"/>
<path d="M76.0,390.7 C79.0,389.5 85.2,387.6 94.0,383.3 C102.8,379.0 119.6,370.2 128.7,364.7 C137.8,359.1 145.4,352.4 148.7,350.0 C154.0,349.8 169.4,348.6 180.7,348.7 C192.0,348.8 206.8,351.1 216.7,350.7 C226.6,350.2 231.7,347.3 240.0,346.0 C248.3,344.7 257.9,343.1 266.7,342.7 C275.5,342.2 282.7,342.3 292.7,343.3 C302.7,344.3 314.6,347.8 326.7,348.7 C338.8,349.6 355.3,349.1 365.3,348.7 C375.3,348.2 374.8,347.0 386.7,346.0 C398.6,345.0 423.5,343.1 436.8,342.5 C450.1,341.9 461.7,342.5 466.7,342.5" fill="none" stroke="#111" stroke-width="3.6" stroke-linejoin="round"/>
<g transform="translate(111.0,374.0) rotate(-28)"><rect x="-16.0" y="-6.9" width="32.0" height="13.8" fill="#fff"/><text transform="scale(1 1.15)" x="0" y="4.5" font-size="14.5" text-anchor="middle" fill="#2a2a2a" stroke="#2a2a2a" stroke-width="0.3" textLength="28.0" lengthAdjust="spacingAndGlyphs">12m</text></g>
<g transform="translate(150.0,366.0) rotate(-28)"><rect x="-15.5" y="-6.9" width="31.0" height="13.8" fill="#dcdde0"/><text transform="scale(1 1.15)" x="0" y="4.5" font-size="14.5" text-anchor="middle" fill="#2a2a2a" stroke="#2a2a2a" stroke-width="0.3" textLength="27.0" lengthAdjust="spacingAndGlyphs">11m</text></g>
<g transform="translate(128.0,393.0) rotate(-22)"><rect x="-16.0" y="-6.9" width="32.0" height="13.8" fill="#dcdde0"/><text transform="scale(1 1.15)" x="0" y="4.5" font-size="14.5" text-anchor="middle" fill="#2a2a2a" stroke="#2a2a2a" stroke-width="0.3" textLength="28.0" lengthAdjust="spacingAndGlyphs">10m</text></g>
<g transform="translate(167.0,389.0) rotate(-22)"><rect x="-12.0" y="-6.9" width="24.0" height="13.8" fill="#dcdde0"/><text transform="scale(1 1.15)" x="0" y="4.5" font-size="14.5" text-anchor="middle" fill="#2a2a2a" stroke="#2a2a2a" stroke-width="0.3" textLength="20.0" lengthAdjust="spacingAndGlyphs">9m</text></g>
<g transform="translate(200.0,386.0) rotate(-20)"><rect x="-12.5" y="-6.9" width="25.0" height="13.8" fill="#dcdde0"/><text transform="scale(1 1.15)" x="0" y="4.5" font-size="14.5" text-anchor="middle" fill="#2a2a2a" stroke="#2a2a2a" stroke-width="0.3" textLength="21.0" lengthAdjust="spacingAndGlyphs">8m</text></g>
<g transform="translate(241.0,389.0) rotate(-18)"><rect x="-12.5" y="-6.9" width="25.0" height="13.8" fill="#dcdde0"/><text transform="scale(1 1.15)" x="0" y="4.5" font-size="14.5" text-anchor="middle" fill="#2a2a2a" stroke="#2a2a2a" stroke-width="0.3" textLength="21.0" lengthAdjust="spacingAndGlyphs">7m</text></g>
<g transform="translate(282.0,393.0) rotate(-16)"><rect x="-12.5" y="-6.9" width="25.0" height="13.8" fill="#dcdde0"/><text transform="scale(1 1.15)" x="0" y="4.5" font-size="14.5" text-anchor="middle" fill="#2a2a2a" stroke="#2a2a2a" stroke-width="0.3" textLength="21.0" lengthAdjust="spacingAndGlyphs">6m</text></g>
<g transform="translate(331.0,393.0) rotate(-20)"><rect x="-12.5" y="-6.9" width="25.0" height="13.8" fill="#dcdde0"/><text transform="scale(1 1.15)" x="0" y="4.5" font-size="14.5" text-anchor="middle" fill="#2a2a2a" stroke="#2a2a2a" stroke-width="0.3" textLength="21.0" lengthAdjust="spacingAndGlyphs">5m</text></g>
<g transform="translate(387.0,393.0) rotate(-25)"><rect x="-12.5" y="-6.9" width="25.0" height="13.8" fill="#dcdde0"/><text transform="scale(1 1.15)" x="0" y="4.5" font-size="14.5" text-anchor="middle" fill="#2a2a2a" stroke="#2a2a2a" stroke-width="0.3" textLength="21.0" lengthAdjust="spacingAndGlyphs">4m</text></g>
<g transform="translate(345.0,428.0) rotate(-18)"><rect x="-12.5" y="-6.9" width="25.0" height="13.8" fill="#dcdde0"/><text transform="scale(1 1.15)" x="0" y="4.5" font-size="14.5" text-anchor="middle" fill="#2a2a2a" stroke="#2a2a2a" stroke-width="0.3" textLength="21.0" lengthAdjust="spacingAndGlyphs">3m</text></g>
<g transform="translate(304.0,451.0) rotate(-12)"><rect x="-12.5" y="-6.9" width="25.0" height="13.8" fill="#dcdde0"/><text transform="scale(1 1.15)" x="0" y="4.5" font-size="14.5" text-anchor="middle" fill="#2a2a2a" stroke="#2a2a2a" stroke-width="0.3" textLength="21.0" lengthAdjust="spacingAndGlyphs">2m</text></g>
<g transform="translate(262.0,472.0) rotate(-12)"><rect x="-12.5" y="-6.9" width="25.0" height="13.8" fill="#dcdde0"/><text transform="scale(1 1.15)" x="0" y="4.5" font-size="14.5" text-anchor="middle" fill="#2a2a2a" stroke="#2a2a2a" stroke-width="0.3" textLength="21.0" lengthAdjust="spacingAndGlyphs">1m</text></g>
<g transform="translate(213.0,487.5) rotate(0)"><rect x="-17.0" y="-6.9" width="34.0" height="13.8" fill="#dcdde0"/><text transform="scale(1 1.15)" x="0" y="4.5" font-size="14.5" text-anchor="middle" fill="#2a2a2a" stroke="#2a2a2a" stroke-width="0.3" textLength="30.0" lengthAdjust="spacingAndGlyphs">0.5m</text></g>
</g>
<rect x="76.6" y="323.4" width="505.5" height="169.6" fill="none" stroke="#111" stroke-width="2.4"/>
<rect x="386" y="328" width="36" height="14" fill="#fff"/>
<text transform="matrix(1 0 0 1.15 0 -50.89)" x="387.5" y="339.3" font-size="14.5" text-anchor="start" font-weight="normal" font-style="normal" fill="#2a2a2a" stroke="#2a2a2a" stroke-width="0.3" textLength="32" lengthAdjust="spacingAndGlyphs">max.</text>
<rect x="392" y="455" width="82" height="15" fill="#fff"/>
<text transform="matrix(1 0 0 1.15 0 -69.90)" x="394.7" y="466.0" font-size="15.5" text-anchor="start" font-weight="normal" font-style="normal" fill="#2a2a2a" stroke="#2a2a2a" stroke-width="0.3" textLength="77" lengthAdjust="spacingAndGlyphs">1490 1/min</text>
<text transform="matrix(1 0 0 1.15 0 -74.77)" x="68.0" y="498.5" font-size="15.5" text-anchor="end" font-weight="normal" font-style="normal" fill="#2a2a2a" stroke="#2a2a2a" stroke-width="0.3" >0</text>
<text transform="matrix(1 0 0 1.15 0 -66.29)" x="68.0" y="442.0" font-size="15.5" text-anchor="end" font-weight="normal" font-style="normal" fill="#2a2a2a" stroke="#2a2a2a" stroke-width="0.3" >200</text>
<text transform="matrix(1 0 0 1.15 0 -57.81)" x="68.0" y="385.4" font-size="15.5" text-anchor="end" font-weight="normal" font-style="normal" fill="#2a2a2a" stroke="#2a2a2a" stroke-width="0.3" >400</text>
<text transform="matrix(1 0 0 1.15 0 -50.62)" x="69.0" y="337.5" font-size="14.5" text-anchor="end" font-weight="bold" font-style="normal" fill="#111" ><tspan font-style="italic">P</tspan>₁/W</text>
<text transform="matrix(1 0 0 1.15 0 -53.77)" x="69.0" y="358.5" font-size="14.5" text-anchor="end" font-weight="bold" font-style="normal" fill="#111" >Δp-c</text>
<text transform="matrix(1 0 0 1.15 0 -76.80)" x="76.6" y="512.0" font-size="15.5" text-anchor="middle" font-weight="normal" font-style="normal" fill="#2a2a2a" stroke="#2a2a2a" stroke-width="0.3" >0</text>
<text transform="matrix(1 0 0 1.15 0 -76.80)" x="148.8" y="512.0" font-size="15.5" text-anchor="middle" font-weight="normal" font-style="normal" fill="#2a2a2a" stroke="#2a2a2a" stroke-width="0.3" >5</text>
<text transform="matrix(1 0 0 1.15 0 -76.80)" x="221.0" y="512.0" font-size="15.5" text-anchor="middle" font-weight="normal" font-style="normal" fill="#2a2a2a" stroke="#2a2a2a" stroke-width="0.3" >10</text>
<text transform="matrix(1 0 0 1.15 0 -76.80)" x="293.2" y="512.0" font-size="15.5" text-anchor="middle" font-weight="normal" font-style="normal" fill="#2a2a2a" stroke="#2a2a2a" stroke-width="0.3" >15</text>
<text transform="matrix(1 0 0 1.15 0 -76.80)" x="365.5" y="512.0" font-size="15.5" text-anchor="middle" font-weight="normal" font-style="normal" fill="#2a2a2a" stroke="#2a2a2a" stroke-width="0.3" >20</text>
<text transform="matrix(1 0 0 1.15 0 -76.80)" x="437.7" y="512.0" font-size="15.5" text-anchor="middle" font-weight="normal" font-style="normal" fill="#2a2a2a" stroke="#2a2a2a" stroke-width="0.3" >25</text>
<text transform="matrix(1 0 0 1.15 0 -76.80)" x="509.9" y="512.0" font-size="15.5" text-anchor="middle" font-weight="normal" font-style="normal" fill="#2a2a2a" stroke="#2a2a2a" stroke-width="0.3" >30</text>
<text transform="matrix(1 0 0 1.15 0 -76.80)" x="581.0" y="512.0" font-size="15.5" text-anchor="end" font-weight="bold" font-style="normal" fill="#111" textLength="50" lengthAdjust="spacingAndGlyphs"><tspan font-style="italic">Q</tspan>/m³/h</text>
<line x1="75.6" y1="292.7" x2="582.1" y2="292.7" stroke="#111" stroke-width="2.2"/>
<line x1="76.6" y1="292.7" x2="76.6" y2="299" stroke="#111" stroke-width="2"/>
<text transform="matrix(1 0 0 1.15 0 -47.40)" x="76.6" y="316.0" font-size="15.5" text-anchor="middle" font-weight="normal" font-style="normal" fill="#2a2a2a" stroke="#2a2a2a" stroke-width="0.3" >0</text>
<line x1="180.6" y1="292.7" x2="180.6" y2="299" stroke="#111" stroke-width="2"/>
<text transform="matrix(1 0 0 1.15 0 -47.40)" x="180.6" y="316.0" font-size="15.5" text-anchor="middle" font-weight="normal" font-style="normal" fill="#2a2a2a" stroke="#2a2a2a" stroke-width="0.3" >2</text>
<line x1="284.6" y1="292.7" x2="284.6" y2="299" stroke="#111" stroke-width="2"/>
<text transform="matrix(1 0 0 1.15 0 -47.40)" x="284.6" y="316.0" font-size="15.5" text-anchor="middle" font-weight="normal" font-style="normal" fill="#2a2a2a" stroke="#2a2a2a" stroke-width="0.3" >4</text>
<line x1="388.5" y1="292.7" x2="388.5" y2="299" stroke="#111" stroke-width="2"/>
<text transform="matrix(1 0 0 1.15 0 -47.40)" x="388.5" y="316.0" font-size="15.5" text-anchor="middle" font-weight="normal" font-style="normal" fill="#2a2a2a" stroke="#2a2a2a" stroke-width="0.3" >6</text>
<line x1="492.5" y1="292.7" x2="492.5" y2="299" stroke="#111" stroke-width="2"/>
<text transform="matrix(1 0 0 1.15 0 -47.40)" x="492.5" y="316.0" font-size="15.5" text-anchor="middle" font-weight="normal" font-style="normal" fill="#2a2a2a" stroke="#2a2a2a" stroke-width="0.3" >8</text>
<text transform="matrix(1 0 0 1.15 0 -47.25)" x="581.0" y="315.0" font-size="15.5" text-anchor="end" font-weight="bold" font-style="normal" fill="#111" textLength="33" lengthAdjust="spacingAndGlyphs"><tspan font-style="italic">Q</tspan>/l/s</text>
<g clip-path="url(#cE)">
<path d="M76.0,654.0 C79.0,651.0 88.0,642.7 94.0,636.0 C100.0,629.3 109.0,617.7 112.0,614.0 L122.0,599.0 L132.0,583.0 C133.3,580.7 137.3,574.3 140.0,569.0 C142.7,563.7 146.7,554.0 148.0,551.0 C154.4,550.8 175.7,549.3 186.7,549.6 C197.7,549.9 205.1,553.3 214.0,553.0 C222.9,552.7 232.0,549.3 240.0,548.0 C248.0,546.7 253.2,545.5 262.0,545.0 C270.8,544.5 282.4,544.2 293.0,545.0 C303.6,545.8 313.3,549.0 325.3,550.0 C337.3,551.0 354.6,551.8 364.8,551.3 C375.0,550.8 374.7,548.5 386.7,547.3 C398.7,546.1 423.5,544.6 436.8,544.1 C450.1,543.6 461.7,544.1 466.7,544.1 C463.1,548.6 454.2,561.9 445.3,571.3 C436.4,580.7 423.1,592.9 413.3,600.7 C403.5,608.5 394.9,612.7 386.7,618.0 C378.5,623.3 369.0,629.6 364.0,632.7 C359.0,635.8 362.5,634.7 356.7,636.7 C350.9,638.7 338.2,642.1 329.3,644.7 C320.4,647.3 310.4,650.2 303.0,652.3 C295.6,654.4 292.2,655.8 285.0,657.5 C277.8,659.2 270.8,660.5 260.0,662.7 C249.2,664.9 238.7,667.7 220.0,670.8 C201.3,673.9 172.0,678.0 148.0,681.3 C124.0,684.6 88.0,689.0 76.0,690.5 Z" fill="#a9aaae"/>
<line x1="148.8" y1="525.2" x2="148.8" y2="694.4" stroke="#555555" stroke-width="2.0"/>
<line x1="221.0" y1="525.2" x2="221.0" y2="694.4" stroke="#555555" stroke-width="2.0"/>
<line x1="293.2" y1="525.2" x2="293.2" y2="694.4" stroke="#555555" stroke-width="2.0"/>
<line x1="365.5" y1="525.2" x2="365.5" y2="694.4" stroke="#555555" stroke-width="2.0"/>
<line x1="437.7" y1="525.2" x2="437.7" y2="694.4" stroke="#555555" stroke-width="2.0"/>
<line x1="509.9" y1="525.2" x2="509.9" y2="694.4" stroke="#555555" stroke-width="2.0"/>
<line x1="76.6" y1="638.0" x2="582.1" y2="638.0" stroke="#555555" stroke-width="2.0"/>
<line x1="76.6" y1="581.6" x2="582.1" y2="581.6" stroke="#555555" stroke-width="2.0"/>
<path d="M76.0,656.0 C81.7,651.7 98.0,640.7 110.0,630.0 C122.0,619.3 136.3,604.8 148.0,592.0 C159.7,579.2 174.7,559.5 180.0,553.0" fill="none" stroke="#111" stroke-width="2.0" stroke-linejoin="round"/>
<path d="M76.0,660.0 C83.3,655.0 106.3,638.3 120.0,630.0 C133.7,621.7 146.7,617.7 158.0,610.0 C169.3,602.3 178.3,593.5 188.0,584.0 C197.7,574.5 211.3,558.2 216.0,553.0" fill="none" stroke="#111" stroke-width="2.0" stroke-linejoin="round"/>
<path d="M76.0,663.0 C88.0,655.8 124.0,633.8 148.0,620.0 C172.0,606.2 202.7,591.7 220.0,580.0 C237.3,568.3 246.7,555.0 252.0,550.0" fill="none" stroke="#111" stroke-width="2.0" stroke-linejoin="round"/>
<path d="M76.0,666.0 C88.0,660.7 123.7,644.3 148.0,634.0 C172.3,623.7 205.7,611.3 222.0,604.0 C238.3,596.7 234.0,599.3 246.0,590.0 C258.0,580.7 286.0,555.0 294.0,548.0" fill="none" stroke="#111" stroke-width="2.0" stroke-linejoin="round"/>
<path d="M76.0,668.0 C88.0,664.0 124.0,651.7 148.0,644.0 C172.0,636.3 195.8,632.0 220.0,622.0 C244.2,612.0 273.0,596.0 293.0,584.0 C313.0,572.0 332.2,555.7 340.0,550.0" fill="none" stroke="#111" stroke-width="2.0" stroke-linejoin="round"/>
<path d="M76.0,670.0 C88.0,667.3 124.0,659.7 148.0,654.0 C172.0,648.3 201.0,641.5 220.0,636.0 C239.0,630.5 247.3,627.2 262.0,621.0 C276.7,614.8 294.2,606.2 308.0,599.0 C321.8,591.8 331.7,586.5 345.0,578.0 C358.3,569.5 380.8,553.0 388.0,548.0" fill="none" stroke="#111" stroke-width="2.0" stroke-linejoin="round"/>
<path d="M76.0,673.0 C88.0,671.0 124.0,665.5 148.0,661.0 C172.0,656.5 201.3,650.2 220.0,646.0 C238.7,641.8 245.0,640.8 260.0,636.0 C275.0,631.2 292.7,624.7 310.0,617.0 C327.3,609.3 344.8,602.0 364.0,590.0 C383.2,578.0 414.8,552.5 425.0,545.0" fill="none" stroke="#111" stroke-width="2.0" stroke-linejoin="round"/>
<path d="M76.0,677.0 C88.0,675.7 124.0,672.3 148.0,669.0 C172.0,665.7 201.3,660.5 220.0,657.0 C238.7,653.5 247.8,651.2 260.0,648.0 C272.2,644.8 281.3,642.2 293.0,638.0 C304.7,633.8 318.1,627.7 330.0,623.0 C341.9,618.3 355.4,613.7 364.7,610.0 C374.0,606.3 374.6,606.3 386.0,601.0 C397.4,595.7 425.4,581.8 433.3,578.0" fill="none" stroke="#111" stroke-width="2.0" stroke-linejoin="round"/>
<path d="M76.0,684.5 C88.0,683.1 124.0,678.9 148.0,676.0 C172.0,673.1 201.3,669.3 220.0,667.0 C238.7,664.7 247.9,663.3 260.0,662.0 C272.1,660.7 281.6,659.8 292.7,659.3 C303.8,658.8 314.7,659.2 326.7,659.3 C338.7,659.4 354.5,659.5 364.7,660.0 C374.9,660.5 384.1,661.7 388.0,662.0" fill="none" stroke="#111" stroke-width="3.6" stroke-linejoin="round"/>
<g transform="translate(172.0,597.0) rotate(-42)"><rect x="-16.0" y="-6.9" width="32.0" height="13.8" fill="#a9aaae"/><text transform="scale(1 1.15)" x="0" y="4.5" font-size="14.5" text-anchor="middle" fill="#2a2a2a" stroke="#2a2a2a" stroke-width="0.3" textLength="28.0" lengthAdjust="spacingAndGlyphs">10m</text></g>
<g transform="translate(233.0,596.0) rotate(-36)"><rect x="-12.5" y="-6.9" width="25.0" height="13.8" fill="#a9aaae"/><text transform="scale(1 1.15)" x="0" y="4.5" font-size="14.5" text-anchor="middle" fill="#2a2a2a" stroke="#2a2a2a" stroke-width="0.3" textLength="21.0" lengthAdjust="spacingAndGlyphs">8m</text></g>
<g transform="translate(320.0,595.0) rotate(-28)"><rect x="-12.5" y="-6.9" width="25.0" height="13.8" fill="#a9aaae"/><text transform="scale(1 1.15)" x="0" y="4.5" font-size="14.5" text-anchor="middle" fill="#2a2a2a" stroke="#2a2a2a" stroke-width="0.3" textLength="21.0" lengthAdjust="spacingAndGlyphs">6m</text></g>
<g transform="translate(398.0,594.0) rotate(-30)"><rect x="-12.5" y="-6.9" width="25.0" height="13.8" fill="#a9aaae"/><text transform="scale(1 1.15)" x="0" y="4.5" font-size="14.5" text-anchor="middle" fill="#2a2a2a" stroke="#2a2a2a" stroke-width="0.3" textLength="21.0" lengthAdjust="spacingAndGlyphs">4m</text></g>
<path d="M356.7,636.7 C352.1,638.0 338.2,642.1 329.3,644.7 C320.4,647.3 310.4,650.2 303.0,652.3 C295.6,654.4 292.2,655.8 285.0,657.5 C277.8,659.2 270.8,660.5 260.0,662.7 C249.2,664.9 238.7,667.7 220.0,670.8 C201.3,673.9 172.0,678.0 148.0,681.3 C124.0,684.6 88.0,689.0 76.0,690.5" fill="none" stroke="#111" stroke-width="3.6" stroke-linejoin="round"/>
<path d="M76.0,654.0 C79.0,651.0 88.0,642.7 94.0,636.0 C100.0,629.3 109.0,617.7 112.0,614.0" fill="none" stroke="#111" stroke-width="3.6" stroke-linejoin="round"/>
<path d="M132.0,583.0 C133.3,580.7 137.3,574.3 140.0,569.0 C142.7,563.7 146.7,554.0 148.0,551.0" fill="none" stroke="#111" stroke-width="3.6" stroke-linejoin="round"/>
<path d="M148.0,551.0 C154.4,550.8 175.7,549.3 186.7,549.6 C197.7,549.9 205.1,553.3 214.0,553.0 C222.9,552.7 232.0,549.3 240.0,548.0 C248.0,546.7 253.2,545.5 262.0,545.0 C270.8,544.5 282.4,544.2 293.0,545.0 C303.6,545.8 313.3,549.0 325.3,550.0 C337.3,551.0 354.6,551.8 364.8,551.3 C375.0,550.8 374.7,548.5 386.7,547.3 C398.7,546.1 423.5,544.6 436.8,544.1 C450.1,543.6 461.7,544.1 466.7,544.1" fill="none" stroke="#111" stroke-width="3.6" stroke-linejoin="round"/>
<g transform="translate(122,599) rotate(-57)"><text x="0" y="5.2" font-size="14.5" text-anchor="middle" fill="#2a2a2a" textLength="28" lengthAdjust="spacingAndGlyphs">12m</text></g>
</g>
<g transform="translate(314.0,649.0) rotate(-16)"><rect x="-13.0" y="-6.9" width="26.0" height="13.8" fill="#fff"/><text transform="scale(1 1.15)" x="0" y="4.5" font-size="14.5" text-anchor="middle" fill="#2a2a2a" stroke="#2a2a2a" stroke-width="0.3" textLength="22.0" lengthAdjust="spacingAndGlyphs">2m</text></g>
<rect x="76.6" y="525.2" width="505.5" height="169.2" fill="none" stroke="#111" stroke-width="2.4"/>
<rect x="386" y="529" width="36" height="14" fill="#fff"/>
<text transform="matrix(1 0 0 1.15 0 -81.10)" x="388.0" y="540.7" font-size="14.5" text-anchor="start" font-weight="normal" font-style="normal" fill="#2a2a2a" stroke="#2a2a2a" stroke-width="0.3" textLength="32" lengthAdjust="spacingAndGlyphs">max.</text>
<text transform="matrix(1 0 0 1.15 0 -100.09)" x="396.0" y="667.3" font-size="15.5" text-anchor="start" font-weight="normal" font-style="normal" fill="#2a2a2a" stroke="#2a2a2a" stroke-width="0.3" textLength="77" lengthAdjust="spacingAndGlyphs">1490 1/min</text>
<text transform="matrix(1 0 0 1.15 0 -104.98)" x="68.0" y="699.9" font-size="15.5" text-anchor="end" font-weight="normal" font-style="normal" fill="#2a2a2a" stroke="#2a2a2a" stroke-width="0.3" >0</text>
<text transform="matrix(1 0 0 1.15 0 -96.52)" x="68.0" y="643.5" font-size="15.5" text-anchor="end" font-weight="normal" font-style="normal" fill="#2a2a2a" stroke="#2a2a2a" stroke-width="0.3" >200</text>
<text transform="matrix(1 0 0 1.15 0 -88.06)" x="68.0" y="587.1" font-size="15.5" text-anchor="end" font-weight="normal" font-style="normal" fill="#2a2a2a" stroke="#2a2a2a" stroke-width="0.3" >400</text>
<text transform="matrix(1 0 0 1.15 0 -80.92)" x="69.0" y="539.5" font-size="14.5" text-anchor="end" font-weight="bold" font-style="normal" fill="#111" ><tspan font-style="italic">P</tspan>₁/W</text>
<text transform="matrix(1 0 0 1.15 0 -84.07)" x="69.0" y="560.5" font-size="14.5" text-anchor="end" font-weight="bold" font-style="normal" fill="#111" >Δp-v</text>
<text transform="matrix(1 0 0 1.15 0 -107.02)" x="76.6" y="713.5" font-size="15.5" text-anchor="middle" font-weight="normal" font-style="normal" fill="#2a2a2a" stroke="#2a2a2a" stroke-width="0.3" >0</text>
<text transform="matrix(1 0 0 1.15 0 -107.02)" x="148.8" y="713.5" font-size="15.5" text-anchor="middle" font-weight="normal" font-style="normal" fill="#2a2a2a" stroke="#2a2a2a" stroke-width="0.3" >5</text>
<text transform="matrix(1 0 0 1.15 0 -107.02)" x="221.0" y="713.5" font-size="15.5" text-anchor="middle" font-weight="normal" font-style="normal" fill="#2a2a2a" stroke="#2a2a2a" stroke-width="0.3" >10</text>
<text transform="matrix(1 0 0 1.15 0 -107.02)" x="293.2" y="713.5" font-size="15.5" text-anchor="middle" font-weight="normal" font-style="normal" fill="#2a2a2a" stroke="#2a2a2a" stroke-width="0.3" >15</text>
<text transform="matrix(1 0 0 1.15 0 -107.02)" x="365.5" y="713.5" font-size="15.5" text-anchor="middle" font-weight="normal" font-style="normal" fill="#2a2a2a" stroke="#2a2a2a" stroke-width="0.3" >20</text>
<text transform="matrix(1 0 0 1.15 0 -107.02)" x="437.7" y="713.5" font-size="15.5" text-anchor="middle" font-weight="normal" font-style="normal" fill="#2a2a2a" stroke="#2a2a2a" stroke-width="0.3" >25</text>
<text transform="matrix(1 0 0 1.15 0 -107.02)" x="509.9" y="713.5" font-size="15.5" text-anchor="middle" font-weight="normal" font-style="normal" fill="#2a2a2a" stroke="#2a2a2a" stroke-width="0.3" >30</text>
<text transform="matrix(1 0 0 1.15 0 -107.02)" x="581.0" y="713.5" font-size="15.5" text-anchor="end" font-weight="bold" font-style="normal" fill="#111" textLength="50" lengthAdjust="spacingAndGlyphs"><tspan font-style="italic">Q</tspan>/m³/h</text>
<line x1="148.8" y1="726.7" x2="148.8" y2="894.1" stroke="#555555" stroke-width="2.0"/>
<line x1="221.0" y1="726.7" x2="221.0" y2="894.1" stroke="#555555" stroke-width="2.0"/>
<line x1="293.2" y1="726.7" x2="293.2" y2="894.1" stroke="#555555" stroke-width="2.0"/>
<line x1="365.5" y1="726.7" x2="365.5" y2="894.1" stroke="#555555" stroke-width="2.0"/>
<line x1="437.7" y1="726.7" x2="437.7" y2="894.1" stroke="#555555" stroke-width="2.0"/>
<line x1="509.9" y1="726.7" x2="509.9" y2="894.1" stroke="#555555" stroke-width="2.0"/>
<line x1="76.6" y1="852.2" x2="582.1" y2="852.2" stroke="#555555" stroke-width="2.0"/>
<line x1="76.6" y1="810.4" x2="582.1" y2="810.4" stroke="#555555" stroke-width="2.0"/>
<line x1="76.6" y1="768.5" x2="582.1" y2="768.5" stroke="#555555" stroke-width="2.0"/>
<path d="M118.7,819.5 C123.6,818.6 136.7,815.4 148.0,814.2 C159.3,813.0 174.7,812.5 186.7,812.2 C198.7,811.9 206.7,812.0 220.0,812.3 C233.3,812.6 254.6,813.7 266.7,813.8 C278.8,813.9 282.6,813.8 292.8,813.0 C303.0,812.2 316.0,811.2 328.0,808.8 C340.0,806.4 352.8,802.9 364.8,798.7 C376.8,794.5 388.0,789.5 400.0,783.5 C412.0,777.5 426.0,769.7 436.8,762.5 C447.6,755.3 460.1,744.2 464.8,740.5" fill="none" stroke="#111" stroke-width="3.8" stroke-linejoin="round"/>
<rect x="76.6" y="726.7" width="505.5" height="167.4" fill="none" stroke="#111" stroke-width="2.4"/>
<text transform="matrix(1 0 0 1.15 0 -134.94)" x="68.0" y="899.6" font-size="15.5" text-anchor="end" font-weight="normal" font-style="normal" fill="#2a2a2a" stroke="#2a2a2a" stroke-width="0.3" >0</text>
<text transform="matrix(1 0 0 1.15 0 -128.66)" x="68.0" y="857.8" font-size="15.5" text-anchor="end" font-weight="normal" font-style="normal" fill="#2a2a2a" stroke="#2a2a2a" stroke-width="0.3" >1</text>
<text transform="matrix(1 0 0 1.15 0 -122.38)" x="68.0" y="815.9" font-size="15.5" text-anchor="end" font-weight="normal" font-style="normal" fill="#2a2a2a" stroke="#2a2a2a" stroke-width="0.3" >2</text>
<text transform="matrix(1 0 0 1.15 0 -116.11)" x="68.0" y="774.0" font-size="15.5" text-anchor="end" font-weight="normal" font-style="normal" fill="#2a2a2a" stroke="#2a2a2a" stroke-width="0.3" >3</text>
<text transform="matrix(1 0 0 1.15 0 -110.95)" x="9.5" y="739.7" font-size="14.5" text-anchor="start" font-weight="bold" font-style="normal" fill="#111" textLength="60" lengthAdjust="spacingAndGlyphs"><tspan font-style="italic">NPSH</tspan>/m</text>
<text transform="matrix(1 0 0 1.15 0 -136.80)" x="76.6" y="912.0" font-size="15.5" text-anchor="middle" font-weight="normal" font-style="normal" fill="#2a2a2a" stroke="#2a2a2a" stroke-width="0.3" >0</text>
<text transform="matrix(1 0 0 1.15 0 -136.80)" x="148.8" y="912.0" font-size="15.5" text-anchor="middle" font-weight="normal" font-style="normal" fill="#2a2a2a" stroke="#2a2a2a" stroke-width="0.3" >5</text>
<text transform="matrix(1 0 0 1.15 0 -136.80)" x="221.0" y="912.0" font-size="15.5" text-anchor="middle" font-weight="normal" font-style="normal" fill="#2a2a2a" stroke="#2a2a2a" stroke-width="0.3" >10</text>
<text transform="matrix(1 0 0 1.15 0 -136.80)" x="293.2" y="912.0" font-size="15.5" text-anchor="middle" font-weight="normal" font-style="normal" fill="#2a2a2a" stroke="#2a2a2a" stroke-width="0.3" >15</text>
<text transform="matrix(1 0 0 1.15 0 -136.80)" x="365.5" y="912.0" font-size="15.5" text-anchor="middle" font-weight="normal" font-style="normal" fill="#2a2a2a" stroke="#2a2a2a" stroke-width="0.3" >20</text>
<text transform="matrix(1 0 0 1.15 0 -136.80)" x="437.7" y="912.0" font-size="15.5" text-anchor="middle" font-weight="normal" font-style="normal" fill="#2a2a2a" stroke="#2a2a2a" stroke-width="0.3" >25</text>
<text transform="matrix(1 0 0 1.15 0 -136.80)" x="509.9" y="912.0" font-size="15.5" text-anchor="middle" font-weight="normal" font-style="normal" fill="#2a2a2a" stroke="#2a2a2a" stroke-width="0.3" >30</text>
<text transform="matrix(1 0 0 1.15 0 -136.80)" x="581.0" y="912.0" font-size="15.5" text-anchor="end" font-weight="bold" font-style="normal" fill="#111" textLength="50" lengthAdjust="spacingAndGlyphs"><tspan font-style="italic">Q</tspan>/m³/h</text>
</svg>
</body></html>
